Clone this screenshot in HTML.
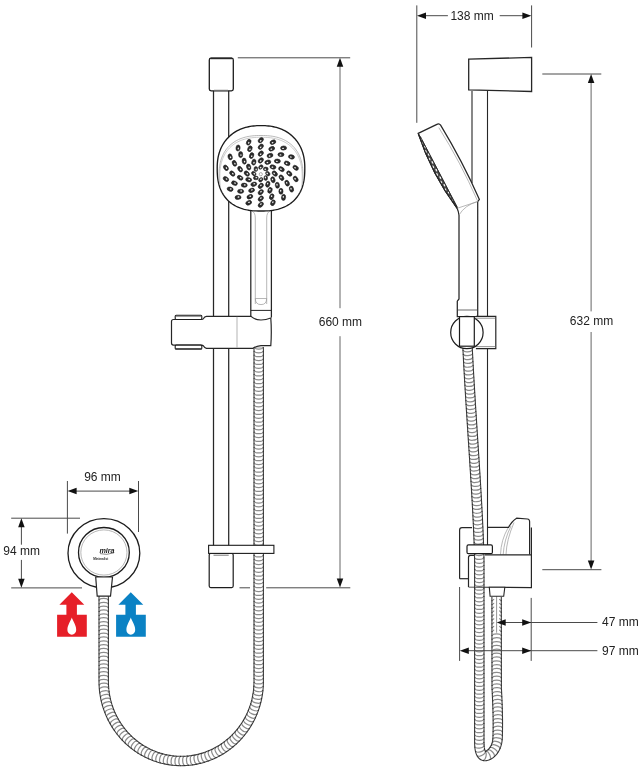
<!DOCTYPE html>
<html><head><meta charset="utf-8"><style>
html,body{margin:0;padding:0;background:#fff;width:643px;height:768px;overflow:hidden}
svg{display:block}
text{font-family:"Liberation Sans",sans-serif}
svg{will-change:transform}
</style></head><body>
<svg width="643" height="768" viewBox="0 0 643 768">
<path d="M258.70,347.50 L258.70,349.50 L258.70,351.50 L258.70,353.50 L258.70,355.50 L258.70,357.50 L258.70,359.50 L258.70,361.50 L258.70,363.50 L258.70,365.50 L258.70,367.50 L258.70,369.50 L258.70,371.50 L258.70,373.50 L258.70,375.50 L258.70,377.50 L258.70,379.50 L258.70,381.50 L258.70,383.50 L258.70,385.50 L258.70,387.50 L258.70,389.50 L258.70,391.50 L258.70,393.50 L258.70,395.50 L258.70,397.50 L258.70,399.50 L258.70,401.50 L258.70,403.50 L258.70,405.50 L258.70,407.50 L258.70,409.50 L258.70,411.50 L258.70,413.50 L258.70,415.50 L258.70,417.50 L258.70,419.50 L258.70,421.50 L258.70,423.50 L258.70,425.50 L258.70,427.50 L258.70,429.50 L258.70,431.50 L258.70,433.50 L258.70,435.50 L258.70,437.50 L258.70,439.50 L258.70,441.50 L258.70,443.50 L258.70,445.50 L258.70,447.50 L258.70,449.50 L258.70,451.50 L258.70,453.50 L258.70,455.50 L258.70,457.50 L258.70,459.50 L258.70,461.50 L258.70,463.50 L258.70,465.50 L258.70,467.50 L258.70,469.50 L258.70,471.50 L258.70,473.50 L258.70,475.50 L258.70,477.50 L258.70,479.50 L258.70,481.50 L258.70,483.50 L258.70,485.50 L258.70,487.50 L258.70,489.50 L258.70,491.50 L258.70,493.50 L258.70,495.50 L258.70,497.50 L258.70,499.50 L258.70,501.50 L258.70,503.50 L258.70,505.50 L258.70,507.50 L258.70,509.50 L258.70,511.50 L258.70,513.50 L258.70,515.50 L258.70,517.50 L258.70,519.50 L258.70,521.50 L258.70,523.50 L258.70,525.50 L258.70,527.50 L258.70,529.50 L258.70,531.50 L258.70,533.50 L258.70,535.50 L258.70,537.50 L258.70,539.50 L258.70,541.50 L258.70,543.50 L258.70,545.50 L258.70,547.50 L258.70,549.50 L258.70,551.50 L258.70,553.50 L258.70,555.50 L258.70,557.50 L258.70,559.50 L258.70,561.50 L258.70,563.50 L258.70,565.50 L258.70,567.50 L258.70,569.50 L258.70,571.50 L258.70,573.50 L258.70,575.50 L258.70,577.50 L258.70,579.50 L258.70,581.50 L258.70,583.50 L258.70,585.50 L258.70,587.50 L258.70,589.50 L258.70,591.50 L258.70,593.50 L258.70,595.50 L258.70,597.50 L258.70,599.50 L258.70,601.50 L258.70,603.50 L258.70,605.50 L258.70,607.50 L258.70,609.50 L258.70,611.50 L258.70,613.50 L258.70,615.50 L258.70,617.50 L258.70,619.50 L258.70,621.50 L258.70,623.50 L258.70,625.50 L258.70,627.50 L258.70,629.50 L258.70,631.50 L258.70,633.50 L258.70,635.50 L258.70,637.50 L258.70,639.50 L258.70,641.50 L258.70,643.50 L258.70,645.50 L258.70,647.50 L258.70,649.50 L258.70,651.50 L258.70,653.50 L258.70,655.50 L258.70,657.50 L258.70,659.50 L258.70,661.50 L258.70,663.50 L258.70,665.50 L258.70,667.50 L258.70,669.50 L258.70,671.50 L258.70,673.50 L258.70,675.50 L258.70,677.50 L258.70,679.50 L258.70,681.50 L258.65,684.27 L258.51,687.05 L258.28,689.81 L257.95,692.56 L257.52,695.31 L257.01,698.03 L256.40,700.73 L255.70,703.41 L254.91,706.07 L254.03,708.69 L253.06,711.28 L252.00,713.84 L250.86,716.35 L249.63,718.82 L248.32,721.25 L246.92,723.63 L245.45,725.96 L243.90,728.23 L242.27,730.45 L240.57,732.60 L238.79,734.70 L236.95,736.73 L235.04,738.69 L233.06,740.58 L231.02,742.40 L228.91,744.15 L226.75,745.82 L224.54,747.41 L222.27,748.92 L219.95,750.35 L217.58,751.69 L215.17,752.95 L212.72,754.13 L210.23,755.21 L207.71,756.21 L205.15,757.11 L202.56,757.92 L199.95,758.64 L197.31,759.26 L194.66,759.79 L191.99,760.23 L189.30,760.56 L186.61,760.81 L183.90,760.95 L181.20,761.00 L178.50,760.95 L175.79,760.81 L173.10,760.56 L170.41,760.23 L167.74,759.79 L165.09,759.26 L162.45,758.64 L159.84,757.92 L157.25,757.11 L154.69,756.21 L152.17,755.21 L149.68,754.13 L147.23,752.95 L144.82,751.69 L142.45,750.35 L140.13,748.92 L137.86,747.41 L135.65,745.82 L133.49,744.15 L131.38,742.40 L129.34,740.58 L127.36,738.69 L125.45,736.73 L123.61,734.70 L121.83,732.60 L120.13,730.45 L118.50,728.23 L116.95,725.96 L115.48,723.63 L114.08,721.25 L112.77,718.82 L111.54,716.35 L110.40,713.84 L109.34,711.28 L108.37,708.69 L107.49,706.07 L106.70,703.41 L106.00,700.73 L105.39,698.03 L104.88,695.31 L104.45,692.56 L104.12,689.81 L103.89,687.05 L103.75,684.27 L103.70,681.50 L103.70,679.46 L103.70,677.43 L103.70,675.39 L103.70,673.36 L103.70,671.32 L103.70,669.29 L103.70,667.25 L103.70,665.21 L103.70,663.18 L103.70,661.14 L103.70,659.11 L103.70,657.07 L103.70,655.04 L103.70,653.00 L103.70,650.96 L103.70,648.93 L103.70,646.89 L103.70,644.86 L103.70,642.82 L103.70,640.79 L103.70,638.75 L103.70,636.71 L103.70,634.68 L103.70,632.64 L103.70,630.61 L103.70,628.57 L103.70,626.54 L103.70,624.50 L103.70,622.46 L103.70,620.43 L103.70,618.39 L103.70,616.36 L103.70,614.32 L103.70,612.29 L103.70,610.25 L103.70,608.21 L103.70,606.18 L103.70,604.14 L103.70,602.11 L103.70,600.07 L103.70,598.04 L103.70,596.00" stroke="#3c3c3c" stroke-width="10.5" fill="none" stroke-linejoin="round"/>
<path d="M258.70,347.50 L258.70,349.50 L258.70,351.50 L258.70,353.50 L258.70,355.50 L258.70,357.50 L258.70,359.50 L258.70,361.50 L258.70,363.50 L258.70,365.50 L258.70,367.50 L258.70,369.50 L258.70,371.50 L258.70,373.50 L258.70,375.50 L258.70,377.50 L258.70,379.50 L258.70,381.50 L258.70,383.50 L258.70,385.50 L258.70,387.50 L258.70,389.50 L258.70,391.50 L258.70,393.50 L258.70,395.50 L258.70,397.50 L258.70,399.50 L258.70,401.50 L258.70,403.50 L258.70,405.50 L258.70,407.50 L258.70,409.50 L258.70,411.50 L258.70,413.50 L258.70,415.50 L258.70,417.50 L258.70,419.50 L258.70,421.50 L258.70,423.50 L258.70,425.50 L258.70,427.50 L258.70,429.50 L258.70,431.50 L258.70,433.50 L258.70,435.50 L258.70,437.50 L258.70,439.50 L258.70,441.50 L258.70,443.50 L258.70,445.50 L258.70,447.50 L258.70,449.50 L258.70,451.50 L258.70,453.50 L258.70,455.50 L258.70,457.50 L258.70,459.50 L258.70,461.50 L258.70,463.50 L258.70,465.50 L258.70,467.50 L258.70,469.50 L258.70,471.50 L258.70,473.50 L258.70,475.50 L258.70,477.50 L258.70,479.50 L258.70,481.50 L258.70,483.50 L258.70,485.50 L258.70,487.50 L258.70,489.50 L258.70,491.50 L258.70,493.50 L258.70,495.50 L258.70,497.50 L258.70,499.50 L258.70,501.50 L258.70,503.50 L258.70,505.50 L258.70,507.50 L258.70,509.50 L258.70,511.50 L258.70,513.50 L258.70,515.50 L258.70,517.50 L258.70,519.50 L258.70,521.50 L258.70,523.50 L258.70,525.50 L258.70,527.50 L258.70,529.50 L258.70,531.50 L258.70,533.50 L258.70,535.50 L258.70,537.50 L258.70,539.50 L258.70,541.50 L258.70,543.50 L258.70,545.50 L258.70,547.50 L258.70,549.50 L258.70,551.50 L258.70,553.50 L258.70,555.50 L258.70,557.50 L258.70,559.50 L258.70,561.50 L258.70,563.50 L258.70,565.50 L258.70,567.50 L258.70,569.50 L258.70,571.50 L258.70,573.50 L258.70,575.50 L258.70,577.50 L258.70,579.50 L258.70,581.50 L258.70,583.50 L258.70,585.50 L258.70,587.50 L258.70,589.50 L258.70,591.50 L258.70,593.50 L258.70,595.50 L258.70,597.50 L258.70,599.50 L258.70,601.50 L258.70,603.50 L258.70,605.50 L258.70,607.50 L258.70,609.50 L258.70,611.50 L258.70,613.50 L258.70,615.50 L258.70,617.50 L258.70,619.50 L258.70,621.50 L258.70,623.50 L258.70,625.50 L258.70,627.50 L258.70,629.50 L258.70,631.50 L258.70,633.50 L258.70,635.50 L258.70,637.50 L258.70,639.50 L258.70,641.50 L258.70,643.50 L258.70,645.50 L258.70,647.50 L258.70,649.50 L258.70,651.50 L258.70,653.50 L258.70,655.50 L258.70,657.50 L258.70,659.50 L258.70,661.50 L258.70,663.50 L258.70,665.50 L258.70,667.50 L258.70,669.50 L258.70,671.50 L258.70,673.50 L258.70,675.50 L258.70,677.50 L258.70,679.50 L258.70,681.50 L258.65,684.27 L258.51,687.05 L258.28,689.81 L257.95,692.56 L257.52,695.31 L257.01,698.03 L256.40,700.73 L255.70,703.41 L254.91,706.07 L254.03,708.69 L253.06,711.28 L252.00,713.84 L250.86,716.35 L249.63,718.82 L248.32,721.25 L246.92,723.63 L245.45,725.96 L243.90,728.23 L242.27,730.45 L240.57,732.60 L238.79,734.70 L236.95,736.73 L235.04,738.69 L233.06,740.58 L231.02,742.40 L228.91,744.15 L226.75,745.82 L224.54,747.41 L222.27,748.92 L219.95,750.35 L217.58,751.69 L215.17,752.95 L212.72,754.13 L210.23,755.21 L207.71,756.21 L205.15,757.11 L202.56,757.92 L199.95,758.64 L197.31,759.26 L194.66,759.79 L191.99,760.23 L189.30,760.56 L186.61,760.81 L183.90,760.95 L181.20,761.00 L178.50,760.95 L175.79,760.81 L173.10,760.56 L170.41,760.23 L167.74,759.79 L165.09,759.26 L162.45,758.64 L159.84,757.92 L157.25,757.11 L154.69,756.21 L152.17,755.21 L149.68,754.13 L147.23,752.95 L144.82,751.69 L142.45,750.35 L140.13,748.92 L137.86,747.41 L135.65,745.82 L133.49,744.15 L131.38,742.40 L129.34,740.58 L127.36,738.69 L125.45,736.73 L123.61,734.70 L121.83,732.60 L120.13,730.45 L118.50,728.23 L116.95,725.96 L115.48,723.63 L114.08,721.25 L112.77,718.82 L111.54,716.35 L110.40,713.84 L109.34,711.28 L108.37,708.69 L107.49,706.07 L106.70,703.41 L106.00,700.73 L105.39,698.03 L104.88,695.31 L104.45,692.56 L104.12,689.81 L103.89,687.05 L103.75,684.27 L103.70,681.50 L103.70,679.46 L103.70,677.43 L103.70,675.39 L103.70,673.36 L103.70,671.32 L103.70,669.29 L103.70,667.25 L103.70,665.21 L103.70,663.18 L103.70,661.14 L103.70,659.11 L103.70,657.07 L103.70,655.04 L103.70,653.00 L103.70,650.96 L103.70,648.93 L103.70,646.89 L103.70,644.86 L103.70,642.82 L103.70,640.79 L103.70,638.75 L103.70,636.71 L103.70,634.68 L103.70,632.64 L103.70,630.61 L103.70,628.57 L103.70,626.54 L103.70,624.50 L103.70,622.46 L103.70,620.43 L103.70,618.39 L103.70,616.36 L103.70,614.32 L103.70,612.29 L103.70,610.25 L103.70,608.21 L103.70,606.18 L103.70,604.14 L103.70,602.11 L103.70,600.07 L103.70,598.04 L103.70,596.00" stroke="#fff" stroke-width="8.3" fill="none" stroke-linejoin="round"/>
<path d="M254.65,347.50 C254.65,349.50 262.75,349.50 262.75,347.50 M254.65,351.35 C254.65,353.35 262.75,353.35 262.75,351.35 M254.65,355.20 C254.65,357.20 262.75,357.20 262.75,355.20 M254.65,359.05 C254.65,361.05 262.75,361.05 262.75,359.05 M254.65,362.90 C254.65,364.90 262.75,364.90 262.75,362.90 M254.65,366.75 C254.65,368.75 262.75,368.75 262.75,366.75 M254.65,370.60 C254.65,372.60 262.75,372.60 262.75,370.60 M254.65,374.45 C254.65,376.45 262.75,376.45 262.75,374.45 M254.65,378.30 C254.65,380.30 262.75,380.30 262.75,378.30 M254.65,382.15 C254.65,384.15 262.75,384.15 262.75,382.15 M254.65,386.00 C254.65,388.00 262.75,388.00 262.75,386.00 M254.65,389.85 C254.65,391.85 262.75,391.85 262.75,389.85 M254.65,393.70 C254.65,395.70 262.75,395.70 262.75,393.70 M254.65,397.55 C254.65,399.55 262.75,399.55 262.75,397.55 M254.65,401.40 C254.65,403.40 262.75,403.40 262.75,401.40 M254.65,405.25 C254.65,407.25 262.75,407.25 262.75,405.25 M254.65,409.10 C254.65,411.10 262.75,411.10 262.75,409.10 M254.65,412.95 C254.65,414.95 262.75,414.95 262.75,412.95 M254.65,416.80 C254.65,418.80 262.75,418.80 262.75,416.80 M254.65,420.65 C254.65,422.65 262.75,422.65 262.75,420.65 M254.65,424.50 C254.65,426.50 262.75,426.50 262.75,424.50 M254.65,428.35 C254.65,430.35 262.75,430.35 262.75,428.35 M254.65,432.20 C254.65,434.20 262.75,434.20 262.75,432.20 M254.65,436.05 C254.65,438.05 262.75,438.05 262.75,436.05 M254.65,439.90 C254.65,441.90 262.75,441.90 262.75,439.90 M254.65,443.75 C254.65,445.75 262.75,445.75 262.75,443.75 M254.65,447.60 C254.65,449.60 262.75,449.60 262.75,447.60 M254.65,451.45 C254.65,453.45 262.75,453.45 262.75,451.45 M254.65,455.30 C254.65,457.30 262.75,457.30 262.75,455.30 M254.65,459.15 C254.65,461.15 262.75,461.15 262.75,459.15 M254.65,463.00 C254.65,465.00 262.75,465.00 262.75,463.00 M254.65,466.85 C254.65,468.85 262.75,468.85 262.75,466.85 M254.65,470.70 C254.65,472.70 262.75,472.70 262.75,470.70 M254.65,474.55 C254.65,476.55 262.75,476.55 262.75,474.55 M254.65,478.40 C254.65,480.40 262.75,480.40 262.75,478.40 M254.65,482.25 C254.65,484.25 262.75,484.25 262.75,482.25 M254.65,486.10 C254.65,488.10 262.75,488.10 262.75,486.10 M254.65,489.95 C254.65,491.95 262.75,491.95 262.75,489.95 M254.65,493.80 C254.65,495.80 262.75,495.80 262.75,493.80 M254.65,497.65 C254.65,499.65 262.75,499.65 262.75,497.65 M254.65,501.50 C254.65,503.50 262.75,503.50 262.75,501.50 M254.65,505.35 C254.65,507.35 262.75,507.35 262.75,505.35 M254.65,509.20 C254.65,511.20 262.75,511.20 262.75,509.20 M254.65,513.05 C254.65,515.05 262.75,515.05 262.75,513.05 M254.65,516.90 C254.65,518.90 262.75,518.90 262.75,516.90 M254.65,520.75 C254.65,522.75 262.75,522.75 262.75,520.75 M254.65,524.60 C254.65,526.60 262.75,526.60 262.75,524.60 M254.65,528.45 C254.65,530.45 262.75,530.45 262.75,528.45 M254.65,532.30 C254.65,534.30 262.75,534.30 262.75,532.30 M254.65,536.15 C254.65,538.15 262.75,538.15 262.75,536.15 M254.65,540.00 C254.65,542.00 262.75,542.00 262.75,540.00 M254.65,543.85 C254.65,545.85 262.75,545.85 262.75,543.85 M254.65,547.70 C254.65,549.70 262.75,549.70 262.75,547.70 M254.65,551.55 C254.65,553.55 262.75,553.55 262.75,551.55 M254.65,555.40 C254.65,557.40 262.75,557.40 262.75,555.40 M254.65,559.25 C254.65,561.25 262.75,561.25 262.75,559.25 M254.65,563.10 C254.65,565.10 262.75,565.10 262.75,563.10 M254.65,566.95 C254.65,568.95 262.75,568.95 262.75,566.95 M254.65,570.80 C254.65,572.80 262.75,572.80 262.75,570.80 M254.65,574.65 C254.65,576.65 262.75,576.65 262.75,574.65 M254.65,578.50 C254.65,580.50 262.75,580.50 262.75,578.50 M254.65,582.35 C254.65,584.35 262.75,584.35 262.75,582.35 M254.65,586.20 C254.65,588.20 262.75,588.20 262.75,586.20 M254.65,590.05 C254.65,592.05 262.75,592.05 262.75,590.05 M254.65,593.90 C254.65,595.90 262.75,595.90 262.75,593.90 M254.65,597.75 C254.65,599.75 262.75,599.75 262.75,597.75 M254.65,601.60 C254.65,603.60 262.75,603.60 262.75,601.60 M254.65,605.45 C254.65,607.45 262.75,607.45 262.75,605.45 M254.65,609.30 C254.65,611.30 262.75,611.30 262.75,609.30 M254.65,613.15 C254.65,615.15 262.75,615.15 262.75,613.15 M254.65,617.00 C254.65,619.00 262.75,619.00 262.75,617.00 M254.65,620.85 C254.65,622.85 262.75,622.85 262.75,620.85 M254.65,624.70 C254.65,626.70 262.75,626.70 262.75,624.70 M254.65,628.55 C254.65,630.55 262.75,630.55 262.75,628.55 M254.65,632.40 C254.65,634.40 262.75,634.40 262.75,632.40 M254.65,636.25 C254.65,638.25 262.75,638.25 262.75,636.25 M254.65,640.10 C254.65,642.10 262.75,642.10 262.75,640.10 M254.65,643.95 C254.65,645.95 262.75,645.95 262.75,643.95 M254.65,647.80 C254.65,649.80 262.75,649.80 262.75,647.80 M254.65,651.65 C254.65,653.65 262.75,653.65 262.75,651.65 M254.65,655.50 C254.65,657.50 262.75,657.50 262.75,655.50 M254.65,659.35 C254.65,661.35 262.75,661.35 262.75,659.35 M254.65,663.20 C254.65,665.20 262.75,665.20 262.75,663.20 M254.65,667.05 C254.65,669.05 262.75,669.05 262.75,667.05 M254.65,670.90 C254.65,672.90 262.75,672.90 262.75,670.90 M254.65,674.75 C254.65,676.75 262.75,676.75 262.75,674.75 M254.65,678.60 C254.65,680.60 262.75,680.60 262.75,678.60 M254.63,682.38 C254.60,684.38 262.70,684.52 262.73,682.52 M254.50,686.09 C254.40,688.09 262.49,688.50 262.59,686.50 M254.22,689.65 C253.98,691.64 262.02,692.60 262.26,690.61 M253.73,693.33 C253.42,695.31 261.43,696.54 261.73,694.57 M253.08,696.99 C252.71,698.95 260.67,700.46 261.04,698.49 M252.28,700.47 C251.78,702.40 259.61,704.45 260.12,702.52 M251.28,704.04 C250.71,705.96 258.48,708.27 259.05,706.36 M250.17,707.44 C249.47,709.31 257.06,712.15 257.76,710.28 M248.83,710.90 C248.07,712.75 255.55,715.84 256.32,714.00 M247.34,714.30 C246.51,716.12 253.89,719.47 254.72,717.65 M245.74,717.49 C244.79,719.25 251.92,723.10 252.87,721.34 M243.93,720.73 C242.92,722.45 249.91,726.55 250.92,724.82 M242.05,723.76 C240.92,725.41 247.61,729.98 248.74,728.33 M239.92,726.80 C238.74,728.41 245.27,733.21 246.45,731.60 M237.67,729.74 C236.43,731.31 242.78,736.33 244.02,734.76 M235.35,732.46 C234.01,733.94 240.00,739.39 241.35,737.91 M232.82,735.16 C231.42,736.60 237.22,742.25 238.62,740.82 M230.26,737.65 C228.77,738.98 234.16,745.03 235.65,743.70 M227.46,740.09 C225.93,741.36 231.10,747.59 232.64,746.32 M224.56,742.39 C222.98,743.62 227.93,750.02 229.51,748.80 M221.66,744.46 C219.99,745.57 224.48,752.31 226.15,751.20 M218.54,746.46 C216.84,747.51 221.09,754.41 222.79,753.36 M215.45,748.24 C213.68,749.17 217.43,756.34 219.20,755.42 M212.14,749.91 C210.34,750.78 213.84,758.08 215.64,757.22 M208.76,751.43 C206.93,752.23 210.16,759.66 212.00,758.86 M205.44,752.71 C203.55,753.38 206.25,761.01 208.14,760.35 M201.92,753.88 C200.01,754.47 202.44,762.20 204.35,761.60 M198.49,754.82 C196.54,755.28 198.41,763.16 200.36,762.70 M194.87,755.62 C192.91,756.01 194.50,763.95 196.46,763.56 M191.36,756.22 C189.38,756.47 190.39,764.51 192.38,764.26 M187.68,756.64 C185.69,756.82 186.42,764.89 188.41,764.71 M183.99,756.89 C181.99,757.00 182.43,765.09 184.42,764.98 M180.43,756.94 C178.43,756.90 178.28,765.00 180.28,765.03 M176.73,756.80 C174.73,756.69 174.30,764.78 176.29,764.89 M173.18,756.49 C171.20,756.24 170.18,764.28 172.17,764.53 M169.51,755.98 C167.54,755.66 166.24,763.65 168.21,763.97 M166.01,755.32 C164.07,754.86 162.20,762.74 164.15,763.20 M162.42,754.43 C160.49,753.90 158.34,761.71 160.27,762.24 M158.87,753.37 C156.96,752.77 154.53,760.50 156.44,761.10 M155.51,752.18 C153.65,751.44 150.68,758.98 152.54,759.71 M152.09,750.76 C150.25,749.96 147.02,757.39 148.85,758.19 M148.87,749.24 C147.09,748.31 143.34,755.49 145.11,756.42 M145.60,747.48 C143.86,746.49 139.86,753.54 141.60,754.52 M142.43,745.58 C140.72,744.53 136.47,751.42 138.18,752.47 M139.47,743.58 C137.85,742.41 133.12,748.99 134.75,750.16 M136.50,741.36 C134.92,740.14 129.97,746.55 131.55,747.77 M133.76,739.09 C132.26,737.76 126.87,743.80 128.36,745.13 M131.02,736.58 C129.58,735.20 123.98,741.05 125.42,742.44 M128.41,733.96 C127.01,732.52 121.21,738.18 122.61,739.61 M126.03,731.29 C124.74,729.77 118.56,735.00 119.85,736.53 M123.69,728.42 C122.45,726.85 116.09,731.87 117.33,733.44 M121.57,725.54 C120.45,723.89 113.76,728.46 114.88,730.11 M119.52,722.45 C118.46,720.76 111.61,725.09 112.68,726.78 M117.62,719.27 C116.61,717.54 109.62,721.64 110.63,723.36 M115.95,716.11 C115.06,714.32 107.80,717.93 108.69,719.72 M114.36,712.76 C113.53,710.94 106.16,714.29 106.99,716.11 M112.99,709.46 C112.29,707.59 104.70,710.43 105.40,712.30 M111.73,705.97 C111.10,704.07 103.42,706.65 104.05,708.55 M110.63,702.43 C110.06,700.51 102.30,702.82 102.87,704.74 M109.76,698.96 C109.32,697.01 101.41,698.79 101.85,700.74 M109.00,695.33 C108.63,693.36 100.67,694.87 101.05,696.84 M108.44,691.80 C108.20,689.81 100.16,690.78 100.40,692.76 M108.04,688.11 C107.87,686.12 99.80,686.80 99.97,688.80 M107.81,684.41 C107.71,682.41 99.62,682.82 99.72,684.82 M107.75,680.76 C107.75,678.76 99.65,678.76 99.65,680.76 M107.75,676.91 C107.75,674.91 99.65,674.91 99.65,676.91 M107.75,673.06 C107.75,671.06 99.65,671.06 99.65,673.06 M107.75,669.21 C107.75,667.21 99.65,667.21 99.65,669.21 M107.75,665.36 C107.75,663.36 99.65,663.36 99.65,665.36 M107.75,661.51 C107.75,659.51 99.65,659.51 99.65,661.51 M107.75,657.66 C107.75,655.66 99.65,655.66 99.65,657.66 M107.75,653.81 C107.75,651.81 99.65,651.81 99.65,653.81 M107.75,649.96 C107.75,647.96 99.65,647.96 99.65,649.96 M107.75,646.11 C107.75,644.11 99.65,644.11 99.65,646.11 M107.75,642.26 C107.75,640.26 99.65,640.26 99.65,642.26 M107.75,638.41 C107.75,636.41 99.65,636.41 99.65,638.41 M107.75,634.56 C107.75,632.56 99.65,632.56 99.65,634.56 M107.75,630.71 C107.75,628.71 99.65,628.71 99.65,630.71 M107.75,626.86 C107.75,624.86 99.65,624.86 99.65,626.86 M107.75,623.01 C107.75,621.01 99.65,621.01 99.65,623.01 M107.75,619.16 C107.75,617.16 99.65,617.16 99.65,619.16 M107.75,615.31 C107.75,613.31 99.65,613.31 99.65,615.31 M107.75,611.46 C107.75,609.46 99.65,609.46 99.65,611.46 M107.75,607.61 C107.75,605.61 99.65,605.61 99.65,607.61 M107.75,603.76 C107.75,601.76 99.65,601.76 99.65,603.76 M107.75,599.91 C107.75,597.91 99.65,597.91 99.65,599.91 M107.75,596.06 C107.75,594.06 99.65,594.06 99.65,596.06" stroke="#8c8c8c" stroke-width="1.25" fill="none"/>
<path d="M254.15,347.50 h0.01 M263.25,347.50 h0.01 M254.15,351.35 h0.01 M263.25,351.35 h0.01 M254.15,355.20 h0.01 M263.25,355.20 h0.01 M254.15,359.05 h0.01 M263.25,359.05 h0.01 M254.15,362.90 h0.01 M263.25,362.90 h0.01 M254.15,366.75 h0.01 M263.25,366.75 h0.01 M254.15,370.60 h0.01 M263.25,370.60 h0.01 M254.15,374.45 h0.01 M263.25,374.45 h0.01 M254.15,378.30 h0.01 M263.25,378.30 h0.01 M254.15,382.15 h0.01 M263.25,382.15 h0.01 M254.15,386.00 h0.01 M263.25,386.00 h0.01 M254.15,389.85 h0.01 M263.25,389.85 h0.01 M254.15,393.70 h0.01 M263.25,393.70 h0.01 M254.15,397.55 h0.01 M263.25,397.55 h0.01 M254.15,401.40 h0.01 M263.25,401.40 h0.01 M254.15,405.25 h0.01 M263.25,405.25 h0.01 M254.15,409.10 h0.01 M263.25,409.10 h0.01 M254.15,412.95 h0.01 M263.25,412.95 h0.01 M254.15,416.80 h0.01 M263.25,416.80 h0.01 M254.15,420.65 h0.01 M263.25,420.65 h0.01 M254.15,424.50 h0.01 M263.25,424.50 h0.01 M254.15,428.35 h0.01 M263.25,428.35 h0.01 M254.15,432.20 h0.01 M263.25,432.20 h0.01 M254.15,436.05 h0.01 M263.25,436.05 h0.01 M254.15,439.90 h0.01 M263.25,439.90 h0.01 M254.15,443.75 h0.01 M263.25,443.75 h0.01 M254.15,447.60 h0.01 M263.25,447.60 h0.01 M254.15,451.45 h0.01 M263.25,451.45 h0.01 M254.15,455.30 h0.01 M263.25,455.30 h0.01 M254.15,459.15 h0.01 M263.25,459.15 h0.01 M254.15,463.00 h0.01 M263.25,463.00 h0.01 M254.15,466.85 h0.01 M263.25,466.85 h0.01 M254.15,470.70 h0.01 M263.25,470.70 h0.01 M254.15,474.55 h0.01 M263.25,474.55 h0.01 M254.15,478.40 h0.01 M263.25,478.40 h0.01 M254.15,482.25 h0.01 M263.25,482.25 h0.01 M254.15,486.10 h0.01 M263.25,486.10 h0.01 M254.15,489.95 h0.01 M263.25,489.95 h0.01 M254.15,493.80 h0.01 M263.25,493.80 h0.01 M254.15,497.65 h0.01 M263.25,497.65 h0.01 M254.15,501.50 h0.01 M263.25,501.50 h0.01 M254.15,505.35 h0.01 M263.25,505.35 h0.01 M254.15,509.20 h0.01 M263.25,509.20 h0.01 M254.15,513.05 h0.01 M263.25,513.05 h0.01 M254.15,516.90 h0.01 M263.25,516.90 h0.01 M254.15,520.75 h0.01 M263.25,520.75 h0.01 M254.15,524.60 h0.01 M263.25,524.60 h0.01 M254.15,528.45 h0.01 M263.25,528.45 h0.01 M254.15,532.30 h0.01 M263.25,532.30 h0.01 M254.15,536.15 h0.01 M263.25,536.15 h0.01 M254.15,540.00 h0.01 M263.25,540.00 h0.01 M254.15,543.85 h0.01 M263.25,543.85 h0.01 M254.15,547.70 h0.01 M263.25,547.70 h0.01 M254.15,551.55 h0.01 M263.25,551.55 h0.01 M254.15,555.40 h0.01 M263.25,555.40 h0.01 M254.15,559.25 h0.01 M263.25,559.25 h0.01 M254.15,563.10 h0.01 M263.25,563.10 h0.01 M254.15,566.95 h0.01 M263.25,566.95 h0.01 M254.15,570.80 h0.01 M263.25,570.80 h0.01 M254.15,574.65 h0.01 M263.25,574.65 h0.01 M254.15,578.50 h0.01 M263.25,578.50 h0.01 M254.15,582.35 h0.01 M263.25,582.35 h0.01 M254.15,586.20 h0.01 M263.25,586.20 h0.01 M254.15,590.05 h0.01 M263.25,590.05 h0.01 M254.15,593.90 h0.01 M263.25,593.90 h0.01 M254.15,597.75 h0.01 M263.25,597.75 h0.01 M254.15,601.60 h0.01 M263.25,601.60 h0.01 M254.15,605.45 h0.01 M263.25,605.45 h0.01 M254.15,609.30 h0.01 M263.25,609.30 h0.01 M254.15,613.15 h0.01 M263.25,613.15 h0.01 M254.15,617.00 h0.01 M263.25,617.00 h0.01 M254.15,620.85 h0.01 M263.25,620.85 h0.01 M254.15,624.70 h0.01 M263.25,624.70 h0.01 M254.15,628.55 h0.01 M263.25,628.55 h0.01 M254.15,632.40 h0.01 M263.25,632.40 h0.01 M254.15,636.25 h0.01 M263.25,636.25 h0.01 M254.15,640.10 h0.01 M263.25,640.10 h0.01 M254.15,643.95 h0.01 M263.25,643.95 h0.01 M254.15,647.80 h0.01 M263.25,647.80 h0.01 M254.15,651.65 h0.01 M263.25,651.65 h0.01 M254.15,655.50 h0.01 M263.25,655.50 h0.01 M254.15,659.35 h0.01 M263.25,659.35 h0.01 M254.15,663.20 h0.01 M263.25,663.20 h0.01 M254.15,667.05 h0.01 M263.25,667.05 h0.01 M254.15,670.90 h0.01 M263.25,670.90 h0.01 M254.15,674.75 h0.01 M263.25,674.75 h0.01 M254.15,678.60 h0.01 M263.25,678.60 h0.01 M254.13,682.37 h0.01 M263.23,682.53 h0.01 M254.01,686.06 h0.01 M263.09,686.53 h0.01 M253.72,689.59 h0.01 M262.75,690.67 h0.01 M253.24,693.26 h0.01 M262.23,694.64 h0.01 M252.59,696.89 h0.01 M261.53,698.59 h0.01 M251.80,700.34 h0.01 M260.60,702.64 h0.01 M250.80,703.90 h0.01 M259.53,706.50 h0.01 M249.70,707.26 h0.01 M258.23,710.45 h0.01 M248.37,710.71 h0.01 M256.78,714.19 h0.01 M246.89,714.09 h0.01 M255.17,717.86 h0.01 M245.30,717.25 h0.01 M253.31,721.58 h0.01 M243.50,720.47 h0.01 M251.35,725.07 h0.01 M241.63,723.48 h0.01 M249.15,728.61 h0.01 M239.52,726.50 h0.01 M246.85,731.89 h0.01 M237.27,729.43 h0.01 M244.42,735.07 h0.01 M234.98,732.12 h0.01 M241.72,738.24 h0.01 M232.46,734.81 h0.01 M238.97,741.17 h0.01 M229.93,737.28 h0.01 M235.98,744.07 h0.01 M227.14,739.70 h0.01 M232.96,746.70 h0.01 M224.26,742.00 h0.01 M229.82,749.20 h0.01 M221.38,744.04 h0.01 M226.43,751.62 h0.01 M218.28,746.04 h0.01 M223.05,753.78 h0.01 M215.22,747.80 h0.01 M219.43,755.86 h0.01 M211.93,749.46 h0.01 M215.86,757.67 h0.01 M208.56,750.97 h0.01 M212.20,759.32 h0.01 M205.27,752.24 h0.01 M208.30,760.82 h0.01 M201.77,753.40 h0.01 M204.50,762.08 h0.01 M198.38,754.34 h0.01 M200.47,763.19 h0.01 M194.78,755.13 h0.01 M196.55,764.05 h0.01 M191.30,755.73 h0.01 M192.44,764.76 h0.01 M187.64,756.15 h0.01 M188.45,765.21 h0.01 M183.96,756.39 h0.01 M184.45,765.48 h0.01 M180.44,756.44 h0.01 M180.27,765.53 h0.01 M176.75,756.30 h0.01 M176.27,765.39 h0.01 M173.24,756.00 h0.01 M172.11,765.03 h0.01 M169.59,755.48 h0.01 M168.13,764.47 h0.01 M166.13,754.83 h0.01 M164.03,763.69 h0.01 M162.55,753.95 h0.01 M160.14,762.72 h0.01 M159.02,752.89 h0.01 M156.29,761.58 h0.01 M155.70,751.71 h0.01 M152.36,760.18 h0.01 M152.29,750.30 h0.01 M148.65,758.64 h0.01 M149.10,748.80 h0.01 M144.88,756.86 h0.01 M145.85,747.05 h0.01 M141.35,754.96 h0.01 M142.69,745.15 h0.01 M137.91,752.90 h0.01 M139.77,743.17 h0.01 M134.46,750.56 h0.01 M136.81,740.96 h0.01 M131.24,748.16 h0.01 M134.09,738.72 h0.01 M128.03,745.51 h0.01 M131.37,736.22 h0.01 M125.08,742.80 h0.01 M128.76,733.61 h0.01 M122.25,739.96 h0.01 M126.41,730.97 h0.01 M119.47,736.85 h0.01 M124.08,728.11 h0.01 M116.94,733.75 h0.01 M121.99,725.26 h0.01 M114.47,730.39 h0.01 M119.95,722.18 h0.01 M112.26,727.05 h0.01 M118.05,719.02 h0.01 M110.20,723.62 h0.01 M116.40,715.89 h0.01 M108.25,719.94 h0.01 M114.82,712.55 h0.01 M106.53,716.32 h0.01 M113.46,709.29 h0.01 M104.93,712.48 h0.01 M112.21,705.81 h0.01 M103.58,708.71 h0.01 M111.11,702.28 h0.01 M102.39,704.88 h0.01 M110.24,698.85 h0.01 M101.36,700.85 h0.01 M109.50,695.24 h0.01 M100.55,696.93 h0.01 M108.94,691.74 h0.01 M99.90,692.82 h0.01 M108.54,688.07 h0.01 M99.48,688.84 h0.01 M108.31,684.38 h0.01 M99.22,684.84 h0.01 M108.25,680.76 h0.01 M99.15,680.76 h0.01 M108.25,676.91 h0.01 M99.15,676.91 h0.01 M108.25,673.06 h0.01 M99.15,673.06 h0.01 M108.25,669.21 h0.01 M99.15,669.21 h0.01 M108.25,665.36 h0.01 M99.15,665.36 h0.01 M108.25,661.51 h0.01 M99.15,661.51 h0.01 M108.25,657.66 h0.01 M99.15,657.66 h0.01 M108.25,653.81 h0.01 M99.15,653.81 h0.01 M108.25,649.96 h0.01 M99.15,649.96 h0.01 M108.25,646.11 h0.01 M99.15,646.11 h0.01 M108.25,642.26 h0.01 M99.15,642.26 h0.01 M108.25,638.41 h0.01 M99.15,638.41 h0.01 M108.25,634.56 h0.01 M99.15,634.56 h0.01 M108.25,630.71 h0.01 M99.15,630.71 h0.01 M108.25,626.86 h0.01 M99.15,626.86 h0.01 M108.25,623.01 h0.01 M99.15,623.01 h0.01 M108.25,619.16 h0.01 M99.15,619.16 h0.01 M108.25,615.31 h0.01 M99.15,615.31 h0.01 M108.25,611.46 h0.01 M99.15,611.46 h0.01 M108.25,607.61 h0.01 M99.15,607.61 h0.01 M108.25,603.76 h0.01 M99.15,603.76 h0.01 M108.25,599.91 h0.01 M99.15,599.91 h0.01 M108.25,596.06 h0.01 M99.15,596.06 h0.01" stroke="#2a2a2a" stroke-width="1.2" stroke-linecap="round" fill="none"/>
<line x1="213.5" y1="91" x2="213.5" y2="546" stroke="#262626" stroke-width="1.25" />
<line x1="228.7" y1="91" x2="228.7" y2="546" stroke="#262626" stroke-width="1.25" />
<rect x="209.3" y="58.2" width="24" height="32.6" rx="1.8" fill="#fff" stroke="#1c1c1c" stroke-width="1.3"/>
<line x1="210.5" y1="58.4" x2="232" y2="58.4" stroke="#262626" stroke-width="1.6" />
<line x1="214" y1="89.9" x2="228" y2="89.9" stroke="#bbb" stroke-width="0.7" />
<rect x="209.2" y="553.4" width="24" height="34.2" rx="1.5" fill="#fff" stroke="#1c1c1c" stroke-width="1.2"/>
<line x1="213.5" y1="555.2" x2="228.7" y2="555.2" stroke="#555" stroke-width="0.8" />
<rect x="208.6" y="545.3" width="65.3" height="8.1" fill="#fff" stroke="#1c1c1c" stroke-width="1.1"/>
<path d="M250.8,211 L250.8,316.4 M271.4,211 L271.4,317.5" stroke="#262626" stroke-width="1.25" fill="none" />
<path d="M255.3,304 L255.3,218 Q255.3,212 251.5,211 M266.7,304 L266.7,218 Q266.7,212 270.5,211" stroke="#999" stroke-width="0.7" fill="none" />
<path d="M255.3,298.5 Q255.4,304.6 261,304.6 Q266.6,304.6 266.7,298.5 M255.3,298.5 L266.7,298.5" stroke="#999" stroke-width="0.7" fill="none" />
<line x1="250.8" y1="310.4" x2="271.4" y2="310.4" stroke="#262626" stroke-width="1.0" />
<path d="M304.80,168.30 L304.78,171.06 L304.71,173.16 L304.60,175.06 L304.45,176.84 L304.26,178.53 L304.02,180.15 L303.73,181.71 L303.41,183.21 L303.04,184.67 L302.63,186.09 L302.18,187.46 L301.68,188.79 L301.15,190.08 L300.57,191.33 L299.95,192.55 L299.29,193.73 L298.58,194.87 L297.84,195.97 L297.06,197.04 L296.24,198.07 L295.37,199.06 L294.47,200.01 L293.53,200.93 L292.55,201.81 L291.53,202.65 L290.48,203.45 L289.38,204.22 L288.25,204.94 L287.08,205.62 L285.87,206.27 L284.63,206.87 L283.34,207.44 L282.02,207.96 L280.65,208.44 L279.24,208.89 L277.79,209.29 L276.30,209.64 L274.75,209.96 L273.15,210.24 L271.49,210.47 L269.76,210.66 L267.93,210.81 L265.98,210.92 L263.83,210.98 L261.00,211.00 L258.17,210.98 L256.02,210.92 L254.07,210.81 L252.24,210.66 L250.51,210.47 L248.85,210.24 L247.25,209.96 L245.70,209.64 L244.21,209.29 L242.76,208.89 L241.35,208.44 L239.98,207.96 L238.66,207.44 L237.37,206.87 L236.13,206.27 L234.92,205.62 L233.75,204.94 L232.62,204.22 L231.52,203.45 L230.47,202.65 L229.45,201.81 L228.47,200.93 L227.53,200.01 L226.63,199.06 L225.76,198.07 L224.94,197.04 L224.16,195.97 L223.42,194.87 L222.71,193.73 L222.05,192.55 L221.43,191.33 L220.85,190.08 L220.32,188.79 L219.82,187.46 L219.37,186.09 L218.96,184.67 L218.59,183.21 L218.27,181.71 L217.98,180.15 L217.74,178.53 L217.55,176.84 L217.40,175.06 L217.29,173.16 L217.22,171.06 L217.20,168.30 L217.22,166.14 L217.29,164.30 L217.41,162.56 L217.58,160.90 L217.79,159.29 L218.05,157.73 L218.36,156.21 L218.71,154.72 L219.11,153.27 L219.56,151.85 L220.05,150.46 L220.58,149.11 L221.16,147.79 L221.79,146.50 L222.46,145.24 L223.17,144.02 L223.92,142.83 L224.72,141.68 L225.56,140.56 L226.44,139.47 L227.36,138.42 L228.32,137.41 L229.32,136.44 L230.35,135.50 L231.43,134.61 L232.54,133.75 L233.69,132.93 L234.87,132.15 L236.09,131.42 L237.35,130.72 L238.63,130.07 L239.96,129.46 L241.31,128.90 L242.70,128.38 L244.12,127.90 L245.58,127.46 L247.07,127.07 L248.59,126.73 L250.16,126.43 L251.76,126.18 L253.41,125.97 L255.12,125.81 L256.89,125.69 L258.78,125.62 L261.00,125.60 L263.22,125.62 L265.11,125.69 L266.88,125.81 L268.59,125.97 L270.24,126.18 L271.84,126.43 L273.41,126.73 L274.93,127.07 L276.42,127.46 L277.88,127.90 L279.30,128.38 L280.69,128.90 L282.04,129.46 L283.37,130.07 L284.65,130.72 L285.91,131.42 L287.13,132.15 L288.31,132.93 L289.46,133.75 L290.57,134.61 L291.65,135.50 L292.68,136.44 L293.68,137.41 L294.64,138.42 L295.56,139.47 L296.44,140.56 L297.28,141.68 L298.08,142.83 L298.83,144.02 L299.54,145.24 L300.21,146.50 L300.84,147.79 L301.42,149.11 L301.95,150.46 L302.44,151.85 L302.89,153.27 L303.29,154.72 L303.64,156.21 L303.95,157.73 L304.21,159.29 L304.42,160.90 L304.59,162.56 L304.71,164.30 L304.78,166.14 Z" fill="#fff" stroke="#1c1c1c" stroke-width="1.35"/>
<clipPath id="hc"><path d="M304.10,168.30 L304.08,171.01 L304.01,173.08 L303.91,174.95 L303.76,176.70 L303.56,178.36 L303.33,179.95 L303.05,181.49 L302.73,182.97 L302.37,184.40 L301.97,185.79 L301.52,187.14 L301.03,188.45 L300.50,189.72 L299.94,190.96 L299.32,192.15 L298.67,193.31 L297.98,194.43 L297.25,195.52 L296.48,196.57 L295.67,197.58 L294.82,198.56 L293.94,199.49 L293.01,200.40 L292.05,201.26 L291.05,202.09 L290.01,202.88 L288.93,203.63 L287.82,204.34 L286.67,205.01 L285.48,205.65 L284.25,206.24 L282.98,206.80 L281.68,207.31 L280.34,207.79 L278.95,208.22 L277.52,208.61 L276.05,208.97 L274.53,209.28 L272.96,209.55 L271.32,209.78 L269.62,209.97 L267.82,210.11 L265.90,210.22 L263.79,210.28 L261.00,210.30 L258.21,210.28 L256.10,210.22 L254.18,210.11 L252.38,209.97 L250.68,209.78 L249.04,209.55 L247.47,209.28 L245.95,208.97 L244.48,208.61 L243.05,208.22 L241.66,207.79 L240.32,207.31 L239.02,206.80 L237.75,206.24 L236.52,205.65 L235.33,205.01 L234.18,204.34 L233.07,203.63 L231.99,202.88 L230.95,202.09 L229.95,201.26 L228.99,200.40 L228.06,199.49 L227.18,198.56 L226.33,197.58 L225.52,196.57 L224.75,195.52 L224.02,194.43 L223.33,193.31 L222.68,192.15 L222.06,190.96 L221.50,189.72 L220.97,188.45 L220.48,187.14 L220.03,185.79 L219.63,184.40 L219.27,182.97 L218.95,181.49 L218.67,179.95 L218.44,178.36 L218.24,176.70 L218.09,174.95 L217.99,173.08 L217.92,171.01 L217.90,168.30 L217.92,166.17 L217.99,164.36 L218.11,162.66 L218.27,161.02 L218.48,159.44 L218.74,157.90 L219.04,156.40 L219.39,154.94 L219.78,153.51 L220.22,152.12 L220.70,150.75 L221.23,149.42 L221.80,148.12 L222.41,146.85 L223.07,145.62 L223.77,144.42 L224.52,143.25 L225.30,142.11 L226.13,141.01 L226.99,139.94 L227.90,138.91 L228.84,137.92 L229.82,136.96 L230.84,136.04 L231.90,135.16 L233.00,134.32 L234.13,133.51 L235.29,132.75 L236.49,132.02 L237.72,131.34 L238.99,130.70 L240.29,130.10 L241.63,129.54 L242.99,129.03 L244.39,128.56 L245.83,128.13 L247.29,127.75 L248.79,127.41 L250.33,127.12 L251.91,126.87 L253.53,126.66 L255.21,126.50 L256.96,126.39 L258.82,126.32 L261.00,126.30 L263.18,126.32 L265.04,126.39 L266.79,126.50 L268.47,126.66 L270.09,126.87 L271.67,127.12 L273.21,127.41 L274.71,127.75 L276.17,128.13 L277.61,128.56 L279.01,129.03 L280.37,129.54 L281.71,130.10 L283.01,130.70 L284.28,131.34 L285.51,132.02 L286.71,132.75 L287.87,133.51 L289.00,134.32 L290.10,135.16 L291.16,136.04 L292.18,136.96 L293.16,137.92 L294.10,138.91 L295.01,139.94 L295.87,141.01 L296.70,142.11 L297.48,143.25 L298.23,144.42 L298.93,145.62 L299.59,146.85 L300.20,148.12 L300.77,149.42 L301.30,150.75 L301.78,152.12 L302.22,153.51 L302.61,154.94 L302.96,156.40 L303.26,157.90 L303.52,159.44 L303.73,161.02 L303.89,162.66 L304.01,164.36 L304.08,166.17 Z"/></clipPath>
<g clip-path="url(#hc)"><path d="M303.00,176.20 L302.98,178.68 L302.91,180.63 L302.81,182.40 L302.66,184.07 L302.47,185.66 L302.23,187.19 L301.96,188.67 L301.64,190.11 L301.28,191.50 L300.88,192.85 L300.44,194.16 L299.95,195.43 L299.43,196.67 L298.86,197.87 L298.26,199.04 L297.61,200.18 L296.92,201.27 L296.20,202.34 L295.44,203.37 L294.64,204.36 L293.80,205.32 L292.92,206.24 L292.00,207.13 L291.05,207.98 L290.06,208.79 L289.04,209.57 L287.97,210.31 L286.88,211.01 L285.74,211.68 L284.57,212.30 L283.37,212.89 L282.12,213.44 L280.85,213.95 L279.53,214.41 L278.18,214.84 L276.78,215.23 L275.35,215.58 L273.87,215.89 L272.35,216.16 L270.76,216.38 L269.12,216.57 L267.40,216.71 L265.57,216.82 L263.56,216.88 L261.00,216.90 L258.44,216.88 L256.43,216.82 L254.60,216.71 L252.88,216.57 L251.24,216.38 L249.65,216.16 L248.13,215.89 L246.65,215.58 L245.22,215.23 L243.82,214.84 L242.47,214.41 L241.15,213.95 L239.88,213.44 L238.63,212.89 L237.43,212.30 L236.26,211.68 L235.12,211.01 L234.03,210.31 L232.96,209.57 L231.94,208.79 L230.95,207.98 L230.00,207.13 L229.08,206.24 L228.20,205.32 L227.36,204.36 L226.56,203.37 L225.80,202.34 L225.08,201.27 L224.39,200.18 L223.74,199.04 L223.14,197.87 L222.57,196.67 L222.05,195.43 L221.56,194.16 L221.12,192.85 L220.72,191.50 L220.36,190.11 L220.04,188.67 L219.77,187.19 L219.53,185.66 L219.34,184.07 L219.19,182.40 L219.09,180.63 L219.02,178.68 L219.00,176.20 L219.02,173.72 L219.09,171.77 L219.19,170.00 L219.34,168.33 L219.53,166.74 L219.77,165.21 L220.04,163.73 L220.36,162.29 L220.72,160.90 L221.12,159.55 L221.56,158.24 L222.05,156.97 L222.57,155.73 L223.14,154.53 L223.74,153.36 L224.39,152.22 L225.08,151.13 L225.80,150.06 L226.56,149.03 L227.36,148.04 L228.20,147.08 L229.08,146.16 L230.00,145.27 L230.95,144.42 L231.94,143.61 L232.96,142.83 L234.03,142.09 L235.12,141.39 L236.26,140.72 L237.43,140.10 L238.63,139.51 L239.88,138.96 L241.15,138.45 L242.47,137.99 L243.82,137.56 L245.22,137.17 L246.65,136.82 L248.13,136.51 L249.65,136.24 L251.24,136.02 L252.88,135.83 L254.60,135.69 L256.43,135.58 L258.44,135.52 L261.00,135.50 L263.56,135.52 L265.57,135.58 L267.40,135.69 L269.12,135.83 L270.76,136.02 L272.35,136.24 L273.87,136.51 L275.35,136.82 L276.78,137.17 L278.18,137.56 L279.53,137.99 L280.85,138.45 L282.12,138.96 L283.37,139.51 L284.57,140.10 L285.74,140.72 L286.88,141.39 L287.97,142.09 L289.04,142.83 L290.06,143.61 L291.05,144.42 L292.00,145.27 L292.92,146.16 L293.80,147.08 L294.64,148.04 L295.44,149.03 L296.20,150.06 L296.92,151.13 L297.61,152.22 L298.26,153.36 L298.86,154.53 L299.43,155.73 L299.95,156.97 L300.44,158.24 L300.88,159.55 L301.28,160.90 L301.64,162.29 L301.96,163.73 L302.23,165.21 L302.47,166.74 L302.66,168.33 L302.81,170.00 L302.91,171.77 L302.98,173.72 Z" fill="none" stroke="#999" stroke-width="0.7"/><path d="M302.20,177.40 L302.18,179.85 L302.12,181.76 L302.01,183.51 L301.87,185.15 L301.68,186.72 L301.45,188.23 L301.18,189.69 L300.87,191.10 L300.51,192.47 L300.12,193.80 L299.68,195.09 L299.21,196.35 L298.69,197.57 L298.14,198.75 L297.55,199.91 L296.91,201.02 L296.24,202.10 L295.53,203.15 L294.78,204.17 L293.99,205.15 L293.17,206.09 L292.31,207.00 L291.41,207.87 L290.48,208.71 L289.51,209.51 L288.50,210.28 L287.46,211.01 L286.38,211.70 L285.27,212.35 L284.12,212.97 L282.94,213.55 L281.72,214.09 L280.47,214.59 L279.18,215.05 L277.85,215.47 L276.48,215.86 L275.08,216.20 L273.63,216.50 L272.13,216.77 L270.58,216.99 L268.97,217.17 L267.27,217.32 L265.48,217.42 L263.52,217.48 L261.00,217.50 L258.48,217.48 L256.52,217.42 L254.73,217.32 L253.03,217.17 L251.42,216.99 L249.87,216.77 L248.37,216.50 L246.92,216.20 L245.52,215.86 L244.15,215.47 L242.82,215.05 L241.53,214.59 L240.28,214.09 L239.06,213.55 L237.88,212.97 L236.73,212.35 L235.62,211.70 L234.54,211.01 L233.50,210.28 L232.49,209.51 L231.52,208.71 L230.59,207.87 L229.69,207.00 L228.83,206.09 L228.01,205.15 L227.22,204.17 L226.47,203.15 L225.76,202.10 L225.09,201.02 L224.45,199.91 L223.86,198.75 L223.31,197.57 L222.79,196.35 L222.32,195.09 L221.88,193.80 L221.49,192.47 L221.13,191.10 L220.82,189.69 L220.55,188.23 L220.32,186.72 L220.13,185.15 L219.99,183.51 L219.88,181.76 L219.82,179.85 L219.80,177.40 L219.82,174.95 L219.88,173.04 L219.99,171.29 L220.13,169.65 L220.32,168.08 L220.55,166.57 L220.82,165.11 L221.13,163.70 L221.49,162.33 L221.88,161.00 L222.32,159.71 L222.79,158.45 L223.31,157.23 L223.86,156.05 L224.45,154.89 L225.09,153.78 L225.76,152.70 L226.47,151.65 L227.22,150.63 L228.01,149.65 L228.83,148.71 L229.69,147.80 L230.59,146.93 L231.52,146.09 L232.49,145.29 L233.50,144.52 L234.54,143.79 L235.62,143.10 L236.73,142.45 L237.88,141.83 L239.06,141.25 L240.28,140.71 L241.53,140.21 L242.82,139.75 L244.15,139.33 L245.52,138.94 L246.92,138.60 L248.37,138.30 L249.87,138.03 L251.42,137.81 L253.03,137.63 L254.73,137.48 L256.52,137.38 L258.48,137.32 L261.00,137.30 L263.52,137.32 L265.48,137.38 L267.27,137.48 L268.97,137.63 L270.58,137.81 L272.13,138.03 L273.63,138.30 L275.08,138.60 L276.48,138.94 L277.85,139.33 L279.18,139.75 L280.47,140.21 L281.72,140.71 L282.94,141.25 L284.12,141.83 L285.27,142.45 L286.38,143.10 L287.46,143.79 L288.50,144.52 L289.51,145.29 L290.48,146.09 L291.41,146.93 L292.31,147.80 L293.17,148.71 L293.99,149.65 L294.78,150.63 L295.53,151.65 L296.24,152.70 L296.91,153.78 L297.55,154.89 L298.14,156.05 L298.69,157.23 L299.21,158.45 L299.68,159.71 L300.12,161.00 L300.51,162.33 L300.87,163.70 L301.18,165.11 L301.45,166.57 L301.68,168.08 L301.87,169.65 L302.01,171.29 L302.12,173.04 L302.18,174.95 Z" fill="none" stroke="#aaa" stroke-width="0.6"/></g>
<g transform="translate(260.80,167.00) rotate(-45.0)"><ellipse rx="2.5" ry="1.85" fill="#2c2c2c" stroke="#1a1a1a" stroke-width="0.5"/><ellipse cx="-0.5" cy="0.3" rx="0.95" ry="0.7" fill="#eee"/></g><g transform="translate(265.75,168.93) rotate(0.0)"><ellipse rx="2.5" ry="1.85" fill="#2c2c2c" stroke="#1a1a1a" stroke-width="0.5"/><ellipse cx="-0.5" cy="0.3" rx="0.95" ry="0.7" fill="#eee"/></g><g transform="translate(267.80,173.60) rotate(45.0)"><ellipse rx="2.5" ry="1.85" fill="#2c2c2c" stroke="#1a1a1a" stroke-width="0.5"/><ellipse cx="-0.5" cy="0.3" rx="0.95" ry="0.7" fill="#eee"/></g><g transform="translate(265.75,177.94) rotate(90.0)"><ellipse rx="2.5" ry="1.85" fill="#2c2c2c" stroke="#1a1a1a" stroke-width="0.5"/><ellipse cx="-0.5" cy="0.3" rx="0.95" ry="0.7" fill="#eee"/></g><g transform="translate(260.80,179.74) rotate(135.0)"><ellipse rx="2.5" ry="1.85" fill="#2c2c2c" stroke="#1a1a1a" stroke-width="0.5"/><ellipse cx="-0.5" cy="0.3" rx="0.95" ry="0.7" fill="#eee"/></g><g transform="translate(255.85,177.94) rotate(180.0)"><ellipse rx="2.5" ry="1.85" fill="#2c2c2c" stroke="#1a1a1a" stroke-width="0.5"/><ellipse cx="-0.5" cy="0.3" rx="0.95" ry="0.7" fill="#eee"/></g><g transform="translate(253.80,173.60) rotate(225.0)"><ellipse rx="2.5" ry="1.85" fill="#2c2c2c" stroke="#1a1a1a" stroke-width="0.5"/><ellipse cx="-0.5" cy="0.3" rx="0.95" ry="0.7" fill="#eee"/></g><g transform="translate(255.85,168.93) rotate(270.0)"><ellipse rx="2.5" ry="1.85" fill="#2c2c2c" stroke="#1a1a1a" stroke-width="0.5"/><ellipse cx="-0.5" cy="0.3" rx="0.95" ry="0.7" fill="#eee"/></g><g transform="translate(260.80,160.40) rotate(-45.0)"><ellipse rx="3.05" ry="2.1" fill="#2c2c2c" stroke="#1a1a1a" stroke-width="0.5"/><ellipse cx="-0.5" cy="0.3" rx="0.95" ry="0.7" fill="#eee"/></g><g transform="translate(267.80,162.17) rotate(-15.0)"><ellipse rx="3.05" ry="2.1" fill="#2c2c2c" stroke="#1a1a1a" stroke-width="0.5"/><ellipse cx="-0.5" cy="0.3" rx="0.95" ry="0.7" fill="#eee"/></g><g transform="translate(272.92,167.00) rotate(15.0)"><ellipse rx="3.05" ry="2.1" fill="#2c2c2c" stroke="#1a1a1a" stroke-width="0.5"/><ellipse cx="-0.5" cy="0.3" rx="0.95" ry="0.7" fill="#eee"/></g><g transform="translate(274.79,173.60) rotate(45.0)"><ellipse rx="3.05" ry="2.1" fill="#2c2c2c" stroke="#1a1a1a" stroke-width="0.5"/><ellipse cx="-0.5" cy="0.3" rx="0.95" ry="0.7" fill="#eee"/></g><g transform="translate(272.92,179.74) rotate(75.0)"><ellipse rx="3.05" ry="2.1" fill="#2c2c2c" stroke="#1a1a1a" stroke-width="0.5"/><ellipse cx="-0.5" cy="0.3" rx="0.95" ry="0.7" fill="#eee"/></g><g transform="translate(267.80,184.23) rotate(105.0)"><ellipse rx="3.05" ry="2.1" fill="#2c2c2c" stroke="#1a1a1a" stroke-width="0.5"/><ellipse cx="-0.5" cy="0.3" rx="0.95" ry="0.7" fill="#eee"/></g><g transform="translate(260.80,185.88) rotate(135.0)"><ellipse rx="3.05" ry="2.1" fill="#2c2c2c" stroke="#1a1a1a" stroke-width="0.5"/><ellipse cx="-0.5" cy="0.3" rx="0.95" ry="0.7" fill="#eee"/></g><g transform="translate(253.80,184.23) rotate(165.0)"><ellipse rx="3.05" ry="2.1" fill="#2c2c2c" stroke="#1a1a1a" stroke-width="0.5"/><ellipse cx="-0.5" cy="0.3" rx="0.95" ry="0.7" fill="#eee"/></g><g transform="translate(248.68,179.74) rotate(195.0)"><ellipse rx="3.05" ry="2.1" fill="#2c2c2c" stroke="#1a1a1a" stroke-width="0.5"/><ellipse cx="-0.5" cy="0.3" rx="0.95" ry="0.7" fill="#eee"/></g><g transform="translate(246.81,173.60) rotate(225.0)"><ellipse rx="3.05" ry="2.1" fill="#2c2c2c" stroke="#1a1a1a" stroke-width="0.5"/><ellipse cx="-0.5" cy="0.3" rx="0.95" ry="0.7" fill="#eee"/></g><g transform="translate(248.68,167.00) rotate(255.0)"><ellipse rx="3.05" ry="2.1" fill="#2c2c2c" stroke="#1a1a1a" stroke-width="0.5"/><ellipse cx="-0.5" cy="0.3" rx="0.95" ry="0.7" fill="#eee"/></g><g transform="translate(253.80,162.17) rotate(285.0)"><ellipse rx="3.05" ry="2.1" fill="#2c2c2c" stroke="#1a1a1a" stroke-width="0.5"/><ellipse cx="-0.5" cy="0.3" rx="0.95" ry="0.7" fill="#eee"/></g><g transform="translate(260.80,153.60) rotate(-45.0)"><ellipse rx="3.05" ry="2.1" fill="#2c2c2c" stroke="#1a1a1a" stroke-width="0.5"/><ellipse cx="-0.5" cy="0.3" rx="0.95" ry="0.7" fill="#eee"/></g><g transform="translate(270.00,155.58) rotate(-19.3)"><ellipse rx="3.05" ry="2.1" fill="#2c2c2c" stroke="#1a1a1a" stroke-width="0.5"/><ellipse cx="-0.5" cy="0.3" rx="0.95" ry="0.7" fill="#eee"/></g><g transform="translate(277.37,161.13) rotate(6.4)"><ellipse rx="3.05" ry="2.1" fill="#2c2c2c" stroke="#1a1a1a" stroke-width="0.5"/><ellipse cx="-0.5" cy="0.3" rx="0.95" ry="0.7" fill="#eee"/></g><g transform="translate(281.47,169.15) rotate(32.1)"><ellipse rx="3.05" ry="2.1" fill="#2c2c2c" stroke="#1a1a1a" stroke-width="0.5"/><ellipse cx="-0.5" cy="0.3" rx="0.95" ry="0.7" fill="#eee"/></g><g transform="translate(281.47,177.74) rotate(57.9)"><ellipse rx="3.05" ry="2.1" fill="#2c2c2c" stroke="#1a1a1a" stroke-width="0.5"/><ellipse cx="-0.5" cy="0.3" rx="0.95" ry="0.7" fill="#eee"/></g><g transform="translate(277.37,185.20) rotate(83.6)"><ellipse rx="3.05" ry="2.1" fill="#2c2c2c" stroke="#1a1a1a" stroke-width="0.5"/><ellipse cx="-0.5" cy="0.3" rx="0.95" ry="0.7" fill="#eee"/></g><g transform="translate(270.00,190.36) rotate(109.3)"><ellipse rx="3.05" ry="2.1" fill="#2c2c2c" stroke="#1a1a1a" stroke-width="0.5"/><ellipse cx="-0.5" cy="0.3" rx="0.95" ry="0.7" fill="#eee"/></g><g transform="translate(260.80,192.20) rotate(135.0)"><ellipse rx="3.05" ry="2.1" fill="#2c2c2c" stroke="#1a1a1a" stroke-width="0.5"/><ellipse cx="-0.5" cy="0.3" rx="0.95" ry="0.7" fill="#eee"/></g><g transform="translate(251.60,190.36) rotate(160.7)"><ellipse rx="3.05" ry="2.1" fill="#2c2c2c" stroke="#1a1a1a" stroke-width="0.5"/><ellipse cx="-0.5" cy="0.3" rx="0.95" ry="0.7" fill="#eee"/></g><g transform="translate(244.23,185.20) rotate(186.4)"><ellipse rx="3.05" ry="2.1" fill="#2c2c2c" stroke="#1a1a1a" stroke-width="0.5"/><ellipse cx="-0.5" cy="0.3" rx="0.95" ry="0.7" fill="#eee"/></g><g transform="translate(240.13,177.74) rotate(212.1)"><ellipse rx="3.05" ry="2.1" fill="#2c2c2c" stroke="#1a1a1a" stroke-width="0.5"/><ellipse cx="-0.5" cy="0.3" rx="0.95" ry="0.7" fill="#eee"/></g><g transform="translate(240.13,169.15) rotate(237.9)"><ellipse rx="3.05" ry="2.1" fill="#2c2c2c" stroke="#1a1a1a" stroke-width="0.5"/><ellipse cx="-0.5" cy="0.3" rx="0.95" ry="0.7" fill="#eee"/></g><g transform="translate(244.23,161.13) rotate(263.6)"><ellipse rx="3.05" ry="2.1" fill="#2c2c2c" stroke="#1a1a1a" stroke-width="0.5"/><ellipse cx="-0.5" cy="0.3" rx="0.95" ry="0.7" fill="#eee"/></g><g transform="translate(251.60,155.58) rotate(289.3)"><ellipse rx="3.05" ry="2.1" fill="#2c2c2c" stroke="#1a1a1a" stroke-width="0.5"/><ellipse cx="-0.5" cy="0.3" rx="0.95" ry="0.7" fill="#eee"/></g><g transform="translate(260.80,146.70) rotate(-45.0)"><ellipse rx="3.05" ry="2.1" fill="#2c2c2c" stroke="#1a1a1a" stroke-width="0.5"/><ellipse cx="-0.5" cy="0.3" rx="0.95" ry="0.7" fill="#eee"/></g><g transform="translate(271.71,148.75) rotate(-22.5)"><ellipse rx="3.05" ry="2.1" fill="#2c2c2c" stroke="#1a1a1a" stroke-width="0.5"/><ellipse cx="-0.5" cy="0.3" rx="0.95" ry="0.7" fill="#eee"/></g><g transform="translate(280.96,154.58) rotate(0.0)"><ellipse rx="3.05" ry="2.1" fill="#2c2c2c" stroke="#1a1a1a" stroke-width="0.5"/><ellipse cx="-0.5" cy="0.3" rx="0.95" ry="0.7" fill="#eee"/></g><g transform="translate(287.14,163.31) rotate(22.5)"><ellipse rx="3.05" ry="2.1" fill="#2c2c2c" stroke="#1a1a1a" stroke-width="0.5"/><ellipse cx="-0.5" cy="0.3" rx="0.95" ry="0.7" fill="#eee"/></g><g transform="translate(289.31,173.60) rotate(45.0)"><ellipse rx="3.05" ry="2.1" fill="#2c2c2c" stroke="#1a1a1a" stroke-width="0.5"/><ellipse cx="-0.5" cy="0.3" rx="0.95" ry="0.7" fill="#eee"/></g><g transform="translate(287.14,183.17) rotate(67.5)"><ellipse rx="3.05" ry="2.1" fill="#2c2c2c" stroke="#1a1a1a" stroke-width="0.5"/><ellipse cx="-0.5" cy="0.3" rx="0.95" ry="0.7" fill="#eee"/></g><g transform="translate(280.96,191.29) rotate(90.0)"><ellipse rx="3.05" ry="2.1" fill="#2c2c2c" stroke="#1a1a1a" stroke-width="0.5"/><ellipse cx="-0.5" cy="0.3" rx="0.95" ry="0.7" fill="#eee"/></g><g transform="translate(271.71,196.71) rotate(112.5)"><ellipse rx="3.05" ry="2.1" fill="#2c2c2c" stroke="#1a1a1a" stroke-width="0.5"/><ellipse cx="-0.5" cy="0.3" rx="0.95" ry="0.7" fill="#eee"/></g><g transform="translate(260.80,198.62) rotate(135.0)"><ellipse rx="3.05" ry="2.1" fill="#2c2c2c" stroke="#1a1a1a" stroke-width="0.5"/><ellipse cx="-0.5" cy="0.3" rx="0.95" ry="0.7" fill="#eee"/></g><g transform="translate(249.89,196.71) rotate(157.5)"><ellipse rx="3.05" ry="2.1" fill="#2c2c2c" stroke="#1a1a1a" stroke-width="0.5"/><ellipse cx="-0.5" cy="0.3" rx="0.95" ry="0.7" fill="#eee"/></g><g transform="translate(240.64,191.29) rotate(180.0)"><ellipse rx="3.05" ry="2.1" fill="#2c2c2c" stroke="#1a1a1a" stroke-width="0.5"/><ellipse cx="-0.5" cy="0.3" rx="0.95" ry="0.7" fill="#eee"/></g><g transform="translate(234.46,183.17) rotate(202.5)"><ellipse rx="3.05" ry="2.1" fill="#2c2c2c" stroke="#1a1a1a" stroke-width="0.5"/><ellipse cx="-0.5" cy="0.3" rx="0.95" ry="0.7" fill="#eee"/></g><g transform="translate(232.29,173.60) rotate(225.0)"><ellipse rx="3.05" ry="2.1" fill="#2c2c2c" stroke="#1a1a1a" stroke-width="0.5"/><ellipse cx="-0.5" cy="0.3" rx="0.95" ry="0.7" fill="#eee"/></g><g transform="translate(234.46,163.31) rotate(247.5)"><ellipse rx="3.05" ry="2.1" fill="#2c2c2c" stroke="#1a1a1a" stroke-width="0.5"/><ellipse cx="-0.5" cy="0.3" rx="0.95" ry="0.7" fill="#eee"/></g><g transform="translate(240.64,154.58) rotate(270.0)"><ellipse rx="3.05" ry="2.1" fill="#2c2c2c" stroke="#1a1a1a" stroke-width="0.5"/><ellipse cx="-0.5" cy="0.3" rx="0.95" ry="0.7" fill="#eee"/></g><g transform="translate(249.89,148.75) rotate(292.5)"><ellipse rx="3.05" ry="2.1" fill="#2c2c2c" stroke="#1a1a1a" stroke-width="0.5"/><ellipse cx="-0.5" cy="0.3" rx="0.95" ry="0.7" fill="#eee"/></g><g transform="translate(260.80,140.20) rotate(-45.0)"><ellipse rx="3.05" ry="2.1" fill="#2c2c2c" stroke="#1a1a1a" stroke-width="0.5"/><ellipse cx="-0.5" cy="0.3" rx="0.95" ry="0.7" fill="#eee"/></g><g transform="translate(272.91,142.21) rotate(-25.0)"><ellipse rx="3.05" ry="2.1" fill="#2c2c2c" stroke="#1a1a1a" stroke-width="0.5"/><ellipse cx="-0.5" cy="0.3" rx="0.95" ry="0.7" fill="#eee"/></g><g transform="translate(283.56,148.01) rotate(-5.0)"><ellipse rx="3.05" ry="2.1" fill="#2c2c2c" stroke="#1a1a1a" stroke-width="0.5"/><ellipse cx="-0.5" cy="0.3" rx="0.95" ry="0.7" fill="#eee"/></g><g transform="translate(291.46,156.90) rotate(15.0)"><ellipse rx="3.05" ry="2.1" fill="#2c2c2c" stroke="#1a1a1a" stroke-width="0.5"/><ellipse cx="-0.5" cy="0.3" rx="0.95" ry="0.7" fill="#eee"/></g><g transform="translate(295.67,167.80) rotate(35.0)"><ellipse rx="3.05" ry="2.1" fill="#2c2c2c" stroke="#1a1a1a" stroke-width="0.5"/><ellipse cx="-0.5" cy="0.3" rx="0.95" ry="0.7" fill="#eee"/></g><g transform="translate(295.67,178.99) rotate(55.0)"><ellipse rx="3.05" ry="2.1" fill="#2c2c2c" stroke="#1a1a1a" stroke-width="0.5"/><ellipse cx="-0.5" cy="0.3" rx="0.95" ry="0.7" fill="#eee"/></g><g transform="translate(291.46,189.13) rotate(75.0)"><ellipse rx="3.05" ry="2.1" fill="#2c2c2c" stroke="#1a1a1a" stroke-width="0.5"/><ellipse cx="-0.5" cy="0.3" rx="0.95" ry="0.7" fill="#eee"/></g><g transform="translate(283.56,197.39) rotate(95.0)"><ellipse rx="3.05" ry="2.1" fill="#2c2c2c" stroke="#1a1a1a" stroke-width="0.5"/><ellipse cx="-0.5" cy="0.3" rx="0.95" ry="0.7" fill="#eee"/></g><g transform="translate(272.91,202.79) rotate(115.0)"><ellipse rx="3.05" ry="2.1" fill="#2c2c2c" stroke="#1a1a1a" stroke-width="0.5"/><ellipse cx="-0.5" cy="0.3" rx="0.95" ry="0.7" fill="#eee"/></g><g transform="translate(260.80,204.66) rotate(135.0)"><ellipse rx="3.05" ry="2.1" fill="#2c2c2c" stroke="#1a1a1a" stroke-width="0.5"/><ellipse cx="-0.5" cy="0.3" rx="0.95" ry="0.7" fill="#eee"/></g><g transform="translate(248.69,202.79) rotate(155.0)"><ellipse rx="3.05" ry="2.1" fill="#2c2c2c" stroke="#1a1a1a" stroke-width="0.5"/><ellipse cx="-0.5" cy="0.3" rx="0.95" ry="0.7" fill="#eee"/></g><g transform="translate(238.04,197.39) rotate(175.0)"><ellipse rx="3.05" ry="2.1" fill="#2c2c2c" stroke="#1a1a1a" stroke-width="0.5"/><ellipse cx="-0.5" cy="0.3" rx="0.95" ry="0.7" fill="#eee"/></g><g transform="translate(230.14,189.13) rotate(195.0)"><ellipse rx="3.05" ry="2.1" fill="#2c2c2c" stroke="#1a1a1a" stroke-width="0.5"/><ellipse cx="-0.5" cy="0.3" rx="0.95" ry="0.7" fill="#eee"/></g><g transform="translate(225.93,178.99) rotate(215.0)"><ellipse rx="3.05" ry="2.1" fill="#2c2c2c" stroke="#1a1a1a" stroke-width="0.5"/><ellipse cx="-0.5" cy="0.3" rx="0.95" ry="0.7" fill="#eee"/></g><g transform="translate(225.93,167.80) rotate(235.0)"><ellipse rx="3.05" ry="2.1" fill="#2c2c2c" stroke="#1a1a1a" stroke-width="0.5"/><ellipse cx="-0.5" cy="0.3" rx="0.95" ry="0.7" fill="#eee"/></g><g transform="translate(230.14,156.90) rotate(255.0)"><ellipse rx="3.05" ry="2.1" fill="#2c2c2c" stroke="#1a1a1a" stroke-width="0.5"/><ellipse cx="-0.5" cy="0.3" rx="0.95" ry="0.7" fill="#eee"/></g><g transform="translate(238.04,148.01) rotate(275.0)"><ellipse rx="3.05" ry="2.1" fill="#2c2c2c" stroke="#1a1a1a" stroke-width="0.5"/><ellipse cx="-0.5" cy="0.3" rx="0.95" ry="0.7" fill="#eee"/></g><g transform="translate(248.69,142.21) rotate(295.0)"><ellipse rx="3.05" ry="2.1" fill="#2c2c2c" stroke="#1a1a1a" stroke-width="0.5"/><ellipse cx="-0.5" cy="0.3" rx="0.95" ry="0.7" fill="#eee"/></g>
<circle cx="260.8" cy="174.2" r="1.6" fill="none" stroke="#777" stroke-width="0.6"/>
<path d="M206.5,316.4 L251,316.4 Q255,320 261,320 Q266,320 270.8,318 Q271.8,332 270.8,345.6 L261,345.6 Q256,346 253,348.3 L206.5,348.3 Q204.5,348 203.5,346 Q202.8,345.2 201.5,345.1 L173.5,345.1 Q171.5,345 171.5,343 L171.5,321.5 Q171.5,319.5 173.5,319.5 L201.5,319.5 Q202.8,319.4 203.5,318.6 Q204.5,316.6 206.5,316.4 Z" stroke="#262626" stroke-width="1.2" fill="#fff" />
<rect x="175.2" y="315.3" width="26.6" height="4.2" rx="1" fill="#fff" stroke="#1c1c1c" stroke-width="1.1"/>
<rect x="175.2" y="345.1" width="26.6" height="4.2" rx="1" fill="#fff" stroke="#1c1c1c" stroke-width="1.1"/>
<line x1="176" y1="316.1" x2="201" y2="316.1" stroke="#444" stroke-width="0.9" />
<line x1="176" y1="348.5" x2="201" y2="348.5" stroke="#444" stroke-width="0.9" />
<line x1="237" y1="316.8" x2="237" y2="347.8" stroke="#aaa" stroke-width="0.9" />
<line x1="237.8" y1="57.8" x2="350.2" y2="57.8" stroke="#4a4a4a" stroke-width="1.0" />
<line x1="239.5" y1="587.8" x2="250" y2="587.8" stroke="#4a4a4a" stroke-width="1.0" />
<line x1="266.2" y1="587.8" x2="350.3" y2="587.8" stroke="#4a4a4a" stroke-width="1.0" />
<line x1="340" y1="66" x2="340" y2="308.2" stroke="#666" stroke-width="1.0" />
<line x1="340" y1="336.2" x2="340" y2="579" stroke="#666" stroke-width="1.0" />
<polygon points="340.00,57.80 336.75,66.80 343.25,66.80" fill="#111"/>
<polygon points="340.00,587.60 336.75,578.60 343.25,578.60" fill="#111"/>
<text x="340.4" y="326.1" font-size="12" text-anchor="middle" fill="#222" >660 mm</text>
<ellipse cx="103.9" cy="553.3" rx="35.9" ry="34.7" fill="#fff" stroke="#1c1c1c" stroke-width="1.3"/>
<ellipse cx="103.9" cy="552.4" rx="25.4" ry="24.9" fill="#fff" stroke="#1c1c1c" stroke-width="1.3"/>
<ellipse cx="103.9" cy="552.5" rx="23.1" ry="22.6" fill="none" stroke="#999" stroke-width="0.7"/>
<path d="M95.7,577 L112.5,577 L110.5,596.2 L97.2,596.2 Z" stroke="#262626" stroke-width="1.2" fill="#fff" />
<text x="107" y="552.6" font-size="7.2" font-weight="bold" font-style="italic" text-anchor="middle" fill="#222">mira</text>
<path d="M100,553.6 Q106,555.5 114,552.8" stroke="#333" stroke-width="0.6" fill="none" />
<text x="100.7" y="559.6" font-size="3.3" font-weight="bold" text-anchor="middle" fill="#222" textLength="15" lengthAdjust="spacingAndGlyphs">Minimalist</text>
<line x1="67.4" y1="481" x2="67.4" y2="533.6" stroke="#4a4a4a" stroke-width="1.0" />
<line x1="138.5" y1="481" x2="138.5" y2="532" stroke="#4a4a4a" stroke-width="1.0" />
<line x1="76" y1="491.1" x2="130" y2="491.1" stroke="#4a4a4a" stroke-width="1.0" />
<polygon points="67.60,491.10 76.60,487.85 76.60,494.35" fill="#111"/>
<polygon points="138.30,491.10 129.30,487.85 129.30,494.35" fill="#111"/>
<text x="102.5" y="481.1" font-size="12" text-anchor="middle" fill="#222" >96 mm</text>
<line x1="11.2" y1="518.2" x2="80" y2="518.2" stroke="#4a4a4a" stroke-width="1.0" />
<line x1="11.2" y1="587.9" x2="82" y2="587.9" stroke="#4a4a4a" stroke-width="1.0" />
<line x1="21.4" y1="527" x2="21.4" y2="544.7" stroke="#4a4a4a" stroke-width="1.0" />
<line x1="21.4" y1="559.9" x2="21.4" y2="579" stroke="#4a4a4a" stroke-width="1.0" />
<polygon points="21.40,518.30 18.15,527.30 24.65,527.30" fill="#111"/>
<polygon points="21.40,587.80 18.15,578.80 24.65,578.80" fill="#111"/>
<text x="21.7" y="555.3" font-size="12" text-anchor="middle" fill="#222" >94 mm</text>
<path d="M71.75,592.2 L84.30000000000001,604.7 L76.9,604.7 L76.9,614.7 L86.80000000000001,614.7 L86.80000000000001,636.7 L57.099999999999994,636.7 L57.099999999999994,614.7 L66.4,614.7 L66.4,604.7 L59.400000000000006,604.7 Z" fill="#e61f28"/>
<path d="M71.80,617.6 C72.70,620.8 76.20,625.2 76.20,629.9 A4.4,4.8 0 0 1 67.40,629.9 C67.40,625.2 70.90,620.8 71.80,617.6 Z" fill="#fff"/>
<path d="M130.75,592.2 L143.3,604.7 L135.9,604.7 L135.9,614.7 L145.8,614.7 L145.8,636.7 L116.1,636.7 L116.1,614.7 L125.4,614.7 L125.4,604.7 L118.4,604.7 Z" fill="#0b82c4"/>
<path d="M130.80,617.6 C131.70,620.8 135.20,625.2 135.20,629.9 A4.4,4.8 0 0 1 126.40,629.9 C126.40,625.2 129.90,620.8 130.80,617.6 Z" fill="#fff"/>
<path d="M467.50,346.50 L467.63,349.26 L467.77,352.02 L467.91,354.79 L468.05,357.57 L468.20,360.35 L468.34,363.14 L468.49,365.93 L468.65,368.72 L468.80,371.52 L468.96,374.32 L469.12,377.12 L469.28,379.92 L469.44,382.73 L469.61,385.54 L469.78,388.35 L469.95,391.17 L470.12,393.98 L470.29,396.80 L470.46,399.61 L470.64,402.43 L470.81,405.25 L470.99,408.06 L471.17,410.88 L471.35,413.69 L471.53,416.50 L471.71,419.31 L471.89,422.12 L472.07,424.93 L472.25,427.73 L472.43,430.53 L472.61,433.33 L472.79,436.12 L472.97,438.91 L473.15,441.70 L473.33,444.48 L473.51,447.26 L473.69,450.03 L473.87,452.80 L474.05,455.56 L474.23,458.31 L474.40,461.06 L474.58,463.80 L474.75,466.54 L474.92,469.26 L475.09,471.98 L475.26,474.70 L475.43,477.40 L475.59,480.10 L475.76,482.78 L475.92,485.46 L476.08,488.13 L476.23,490.79 L476.39,493.43 L476.54,496.07 L476.69,498.70 L476.84,501.32 L476.98,503.92 L477.13,506.51 L477.26,509.09 L477.40,511.66 L477.53,514.22 L477.66,516.76 L477.79,519.29 L477.91,521.81 L478.03,524.32 L478.14,526.80 L478.25,529.28 L478.36,531.74 L478.46,534.18 L478.56,536.61 L478.66,539.03 L478.75,541.43 L478.83,543.81 L478.92,546.17 L478.99,548.52 L479.06,550.85 L479.13,553.17 L479.19,555.46 L479.25,557.74 L479.30,560.00 L479.30,562.00 L479.30,564.00 L479.30,566.00 L479.30,568.00 L479.30,570.00 L479.30,572.00 L479.30,574.00 L479.30,576.00 L479.30,578.00 L479.30,580.00 L479.30,582.00 L479.30,584.00 L479.30,586.00 L479.30,588.00 L479.30,590.00 L479.30,592.00 L479.30,594.00 L479.30,596.00 L479.30,598.00 L479.30,600.00 L479.30,602.00 L479.30,604.00 L479.30,606.00 L479.30,608.00 L479.30,610.00 L479.30,612.00 L479.30,614.00 L479.30,616.00 L479.30,618.00 L479.30,620.00 L479.30,622.00 L479.30,624.00 L479.30,626.00 L479.30,628.00 L479.30,630.00 L479.30,632.00 L479.30,634.00 L479.30,636.00 L479.30,638.00 L479.30,640.00 L479.30,642.00 L479.30,644.00 L479.30,646.00 L479.30,648.00 L479.30,650.00 L479.30,652.00 L479.30,654.00 L479.30,656.00 L479.30,658.00 L479.30,660.00 L479.30,662.00 L479.30,664.00 L479.30,666.00 L479.30,668.00 L479.30,670.00 L479.30,672.00 L479.30,674.00 L479.30,676.00 L479.30,678.00 L479.30,680.00 L479.30,682.00 L479.30,684.00 L479.30,686.00 L479.30,688.00 L479.30,690.00 L479.30,692.00 L479.30,694.00 L479.30,696.00 L479.30,698.00 L479.30,700.00 L479.30,702.00 L479.30,704.00 L479.30,706.00 L479.30,708.00 L479.30,710.00 L479.30,712.00 L479.30,714.00 L479.30,716.00 L479.30,718.00 L479.30,720.00 L479.30,722.00 L479.30,724.00 L479.30,726.00 L479.30,728.00 L479.30,730.00 L479.30,732.00 L479.30,734.00 L479.30,736.00 L479.30,738.00 L479.30,740.00 L479.30,742.00 L479.35,744.39 L479.48,746.54 L479.71,748.48 L480.02,750.19 L480.42,751.67 L480.90,752.94 L481.47,753.98 L482.11,754.81 L482.84,755.43 L483.65,755.83 L484.54,756.02 L485.50,756.00 L486.50,755.82 L487.56,755.48 L488.65,754.98 L489.76,754.31 L490.87,753.48 L491.96,752.48 L493.01,751.31 L494.00,749.97 L494.91,748.44 L495.73,746.73 L496.42,744.83 L496.98,742.75 L497.38,740.47 L497.60,738.00 L497.68,735.59 L497.74,733.17 L497.79,730.74 L497.82,728.29 L497.84,725.83 L497.84,723.36 L497.83,720.88 L497.80,718.38 L497.76,715.88 L497.71,713.38 L497.65,710.86 L497.58,708.34 L497.50,705.81 L497.40,703.27 L497.30,700.73 L497.20,698.19 L497.08,695.65 L496.96,693.10 L496.83,690.55 L496.70,688.00 L496.70,685.98 L496.70,683.96 L496.69,681.93 L496.69,679.91 L496.69,677.89 L496.69,675.87 L496.68,673.84 L496.68,671.82 L496.68,669.80 L496.68,667.78 L496.68,665.76 L496.67,663.73 L496.67,661.71 L496.67,659.69 L496.67,657.67 L496.66,655.64 L496.66,653.62 L496.66,651.60 L496.66,649.58 L496.66,647.56 L496.65,645.53 L496.65,643.51 L496.65,641.49 L496.65,639.47 L496.64,637.44 L496.64,635.42 L496.64,633.40 L496.64,631.38 L496.64,629.36 L496.63,627.33 L496.63,625.31 L496.63,623.29 L496.63,621.27 L496.62,619.24 L496.62,617.22 L496.62,615.20 L496.62,613.18 L496.62,611.16 L496.61,609.13 L496.61,607.11 L496.61,605.09 L496.61,603.07 L496.60,601.04 L496.60,599.02 L496.60,597.00" stroke="#3c3c3c" stroke-width="10.5" fill="none" stroke-linejoin="round"/>
<path d="M467.50,346.50 L467.63,349.26 L467.77,352.02 L467.91,354.79 L468.05,357.57 L468.20,360.35 L468.34,363.14 L468.49,365.93 L468.65,368.72 L468.80,371.52 L468.96,374.32 L469.12,377.12 L469.28,379.92 L469.44,382.73 L469.61,385.54 L469.78,388.35 L469.95,391.17 L470.12,393.98 L470.29,396.80 L470.46,399.61 L470.64,402.43 L470.81,405.25 L470.99,408.06 L471.17,410.88 L471.35,413.69 L471.53,416.50 L471.71,419.31 L471.89,422.12 L472.07,424.93 L472.25,427.73 L472.43,430.53 L472.61,433.33 L472.79,436.12 L472.97,438.91 L473.15,441.70 L473.33,444.48 L473.51,447.26 L473.69,450.03 L473.87,452.80 L474.05,455.56 L474.23,458.31 L474.40,461.06 L474.58,463.80 L474.75,466.54 L474.92,469.26 L475.09,471.98 L475.26,474.70 L475.43,477.40 L475.59,480.10 L475.76,482.78 L475.92,485.46 L476.08,488.13 L476.23,490.79 L476.39,493.43 L476.54,496.07 L476.69,498.70 L476.84,501.32 L476.98,503.92 L477.13,506.51 L477.26,509.09 L477.40,511.66 L477.53,514.22 L477.66,516.76 L477.79,519.29 L477.91,521.81 L478.03,524.32 L478.14,526.80 L478.25,529.28 L478.36,531.74 L478.46,534.18 L478.56,536.61 L478.66,539.03 L478.75,541.43 L478.83,543.81 L478.92,546.17 L478.99,548.52 L479.06,550.85 L479.13,553.17 L479.19,555.46 L479.25,557.74 L479.30,560.00 L479.30,562.00 L479.30,564.00 L479.30,566.00 L479.30,568.00 L479.30,570.00 L479.30,572.00 L479.30,574.00 L479.30,576.00 L479.30,578.00 L479.30,580.00 L479.30,582.00 L479.30,584.00 L479.30,586.00 L479.30,588.00 L479.30,590.00 L479.30,592.00 L479.30,594.00 L479.30,596.00 L479.30,598.00 L479.30,600.00 L479.30,602.00 L479.30,604.00 L479.30,606.00 L479.30,608.00 L479.30,610.00 L479.30,612.00 L479.30,614.00 L479.30,616.00 L479.30,618.00 L479.30,620.00 L479.30,622.00 L479.30,624.00 L479.30,626.00 L479.30,628.00 L479.30,630.00 L479.30,632.00 L479.30,634.00 L479.30,636.00 L479.30,638.00 L479.30,640.00 L479.30,642.00 L479.30,644.00 L479.30,646.00 L479.30,648.00 L479.30,650.00 L479.30,652.00 L479.30,654.00 L479.30,656.00 L479.30,658.00 L479.30,660.00 L479.30,662.00 L479.30,664.00 L479.30,666.00 L479.30,668.00 L479.30,670.00 L479.30,672.00 L479.30,674.00 L479.30,676.00 L479.30,678.00 L479.30,680.00 L479.30,682.00 L479.30,684.00 L479.30,686.00 L479.30,688.00 L479.30,690.00 L479.30,692.00 L479.30,694.00 L479.30,696.00 L479.30,698.00 L479.30,700.00 L479.30,702.00 L479.30,704.00 L479.30,706.00 L479.30,708.00 L479.30,710.00 L479.30,712.00 L479.30,714.00 L479.30,716.00 L479.30,718.00 L479.30,720.00 L479.30,722.00 L479.30,724.00 L479.30,726.00 L479.30,728.00 L479.30,730.00 L479.30,732.00 L479.30,734.00 L479.30,736.00 L479.30,738.00 L479.30,740.00 L479.30,742.00 L479.35,744.39 L479.48,746.54 L479.71,748.48 L480.02,750.19 L480.42,751.67 L480.90,752.94 L481.47,753.98 L482.11,754.81 L482.84,755.43 L483.65,755.83 L484.54,756.02 L485.50,756.00 L486.50,755.82 L487.56,755.48 L488.65,754.98 L489.76,754.31 L490.87,753.48 L491.96,752.48 L493.01,751.31 L494.00,749.97 L494.91,748.44 L495.73,746.73 L496.42,744.83 L496.98,742.75 L497.38,740.47 L497.60,738.00 L497.68,735.59 L497.74,733.17 L497.79,730.74 L497.82,728.29 L497.84,725.83 L497.84,723.36 L497.83,720.88 L497.80,718.38 L497.76,715.88 L497.71,713.38 L497.65,710.86 L497.58,708.34 L497.50,705.81 L497.40,703.27 L497.30,700.73 L497.20,698.19 L497.08,695.65 L496.96,693.10 L496.83,690.55 L496.70,688.00 L496.70,685.98 L496.70,683.96 L496.69,681.93 L496.69,679.91 L496.69,677.89 L496.69,675.87 L496.68,673.84 L496.68,671.82 L496.68,669.80 L496.68,667.78 L496.68,665.76 L496.67,663.73 L496.67,661.71 L496.67,659.69 L496.67,657.67 L496.66,655.64 L496.66,653.62 L496.66,651.60 L496.66,649.58 L496.66,647.56 L496.65,645.53 L496.65,643.51 L496.65,641.49 L496.65,639.47 L496.64,637.44 L496.64,635.42 L496.64,633.40 L496.64,631.38 L496.64,629.36 L496.63,627.33 L496.63,625.31 L496.63,623.29 L496.63,621.27 L496.62,619.24 L496.62,617.22 L496.62,615.20 L496.62,613.18 L496.62,611.16 L496.61,609.13 L496.61,607.11 L496.61,605.09 L496.61,603.07 L496.60,601.04 L496.60,599.02 L496.60,597.00" stroke="#fff" stroke-width="8.3" fill="none" stroke-linejoin="round"/>
<path d="M463.45,346.69 C463.55,348.69 471.64,348.30 471.55,346.31 M463.64,350.54 C463.74,352.54 471.83,352.14 471.73,350.15 M463.83,354.39 C463.93,356.39 472.02,355.99 471.92,353.99 M464.03,358.25 C464.13,360.24 472.22,359.82 472.12,357.82 M464.23,362.09 C464.34,364.09 472.43,363.66 472.32,361.67 M464.44,365.94 C464.55,367.94 472.63,367.50 472.53,365.51 M464.65,369.79 C464.76,371.79 472.85,371.34 472.74,369.34 M464.86,373.64 C464.98,375.64 473.06,375.18 472.95,373.19 M465.08,377.49 C465.20,379.49 473.28,379.02 473.17,377.02 M465.31,381.34 C465.42,383.33 473.51,382.86 473.39,380.86 M465.53,385.18 C465.65,387.18 473.74,386.70 473.62,384.71 M465.76,389.03 C465.88,391.03 473.97,390.54 473.85,388.54 M465.99,392.88 C466.11,394.87 474.20,394.38 474.08,392.38 M466.23,396.72 C466.35,398.72 474.43,398.22 474.31,396.23 M466.46,400.57 C466.59,402.56 474.67,402.06 474.55,400.06 M466.70,404.41 C466.83,406.41 474.91,405.90 474.79,403.91 M466.94,408.25 C467.07,410.25 475.15,409.74 475.03,407.75 M467.19,412.10 C467.31,414.10 475.40,413.58 475.27,411.59 M467.43,415.94 C467.56,417.94 475.64,417.42 475.52,415.43 M467.68,419.79 C467.81,421.78 475.89,421.26 475.76,419.27 M467.92,423.63 C468.05,425.63 476.14,425.11 476.01,423.11 M468.17,427.47 C468.30,429.47 476.38,428.95 476.26,426.95 M468.42,431.32 C468.55,433.31 476.63,432.79 476.50,430.79 M468.67,435.16 C468.80,437.15 476.88,436.63 476.75,434.63 M468.92,439.00 C469.05,441.00 477.13,440.47 477.00,438.48 M469.17,442.84 C469.30,444.84 477.38,444.31 477.25,442.32 M469.42,446.68 C469.55,448.68 477.63,448.16 477.50,446.16 M469.67,450.52 C469.79,452.52 477.88,452.00 477.75,450.00 M469.91,454.37 C470.04,456.36 478.12,455.84 478.00,453.85 M470.16,458.21 C470.29,460.20 478.37,459.68 478.24,457.69 M470.41,462.05 C470.53,464.04 478.62,463.53 478.49,461.53 M470.65,465.89 C470.78,467.88 478.86,467.37 478.73,465.38 M470.89,469.73 C471.02,471.72 479.10,471.22 478.98,469.22 M471.13,473.57 C471.26,475.56 479.34,475.06 479.22,473.06 M471.37,477.41 C471.49,479.41 479.58,478.91 479.45,476.91 M471.61,481.25 C471.73,483.24 479.81,482.75 479.69,480.76 M471.84,485.09 C471.96,487.09 480.04,486.60 479.92,484.60 M472.07,488.93 C472.19,490.92 480.27,490.45 480.15,488.45 M472.29,492.77 C472.41,494.76 480.50,494.29 480.38,492.29 M472.52,496.61 C472.63,498.60 480.72,498.14 480.60,496.14 M472.73,500.45 C472.85,502.44 480.93,501.99 480.82,499.99 M472.95,504.28 C473.06,506.28 481.14,505.84 481.04,503.84 M473.16,508.12 C473.26,510.12 481.35,509.69 481.24,507.69 M473.36,511.96 C473.46,513.96 481.55,513.54 481.45,511.54 M473.56,515.80 C473.66,517.80 481.75,517.39 481.65,515.39 M473.75,519.64 C473.85,521.64 481.94,521.24 481.84,519.25 M473.93,523.48 C474.03,525.48 482.12,525.09 482.02,523.10 M474.11,527.31 C474.20,529.31 482.29,528.95 482.20,526.95 M474.28,531.16 C474.37,533.15 482.46,532.80 482.37,530.80 M474.44,534.99 C474.53,536.99 482.62,536.66 482.54,534.66 M474.60,538.83 C474.68,540.83 482.77,540.51 482.69,538.51 M474.74,542.67 C474.81,544.66 482.91,544.37 482.83,542.37 M474.87,546.50 C474.94,548.50 483.03,548.24 482.97,546.24 M475.00,550.34 C475.06,552.34 483.15,552.09 483.09,550.09 M475.11,554.17 C475.16,556.17 483.26,555.95 483.20,553.96 M475.20,558.01 C475.25,560.00 483.35,559.82 483.30,557.82 M475.25,561.76 C475.25,563.76 483.35,563.76 483.35,561.76 M475.25,565.61 C475.25,567.61 483.35,567.61 483.35,565.61 M475.25,569.46 C475.25,571.46 483.35,571.46 483.35,569.46 M475.25,573.31 C475.25,575.31 483.35,575.31 483.35,573.31 M475.25,577.16 C475.25,579.16 483.35,579.16 483.35,577.16 M475.25,581.01 C475.25,583.01 483.35,583.01 483.35,581.01 M475.25,584.86 C475.25,586.86 483.35,586.86 483.35,584.86 M475.25,588.71 C475.25,590.71 483.35,590.71 483.35,588.71 M475.25,592.56 C475.25,594.56 483.35,594.56 483.35,592.56 M475.25,596.41 C475.25,598.41 483.35,598.41 483.35,596.41 M475.25,600.26 C475.25,602.26 483.35,602.26 483.35,600.26 M475.25,604.11 C475.25,606.11 483.35,606.11 483.35,604.11 M475.25,607.96 C475.25,609.96 483.35,609.96 483.35,607.96 M475.25,611.81 C475.25,613.81 483.35,613.81 483.35,611.81 M475.25,615.66 C475.25,617.66 483.35,617.66 483.35,615.66 M475.25,619.51 C475.25,621.51 483.35,621.51 483.35,619.51 M475.25,623.36 C475.25,625.36 483.35,625.36 483.35,623.36 M475.25,627.21 C475.25,629.21 483.35,629.21 483.35,627.21 M475.25,631.06 C475.25,633.06 483.35,633.06 483.35,631.06 M475.25,634.91 C475.25,636.91 483.35,636.91 483.35,634.91 M475.25,638.76 C475.25,640.76 483.35,640.76 483.35,638.76 M475.25,642.61 C475.25,644.61 483.35,644.61 483.35,642.61 M475.25,646.46 C475.25,648.46 483.35,648.46 483.35,646.46 M475.25,650.31 C475.25,652.31 483.35,652.31 483.35,650.31 M475.25,654.16 C475.25,656.16 483.35,656.16 483.35,654.16 M475.25,658.01 C475.25,660.01 483.35,660.01 483.35,658.01 M475.25,661.86 C475.25,663.86 483.35,663.86 483.35,661.86 M475.25,665.71 C475.25,667.71 483.35,667.71 483.35,665.71 M475.25,669.56 C475.25,671.56 483.35,671.56 483.35,669.56 M475.25,673.41 C475.25,675.41 483.35,675.41 483.35,673.41 M475.25,677.26 C475.25,679.26 483.35,679.26 483.35,677.26 M475.25,681.11 C475.25,683.11 483.35,683.11 483.35,681.11 M475.25,684.96 C475.25,686.96 483.35,686.96 483.35,684.96 M475.25,688.81 C475.25,690.81 483.35,690.81 483.35,688.81 M475.25,692.66 C475.25,694.66 483.35,694.66 483.35,692.66 M475.25,696.51 C475.25,698.51 483.35,698.51 483.35,696.51 M475.25,700.36 C475.25,702.36 483.35,702.36 483.35,700.36 M475.25,704.21 C475.25,706.21 483.35,706.21 483.35,704.21 M475.25,708.06 C475.25,710.06 483.35,710.06 483.35,708.06 M475.25,711.91 C475.25,713.91 483.35,713.91 483.35,711.91 M475.25,715.76 C475.25,717.76 483.35,717.76 483.35,715.76 M475.25,719.61 C475.25,721.61 483.35,721.61 483.35,719.61 M475.25,723.46 C475.25,725.46 483.35,725.46 483.35,723.46 M475.25,727.31 C475.25,729.31 483.35,729.31 483.35,727.31 M475.25,731.16 C475.25,733.16 483.35,733.16 483.35,731.16 M475.25,735.01 C475.25,737.01 483.35,737.01 483.35,735.01 M475.25,738.86 C475.25,740.86 483.35,740.86 483.35,738.86 M475.26,742.79 C475.30,744.79 483.40,744.63 483.36,742.64 M475.46,747.03 C475.69,749.01 483.74,748.08 483.51,746.09 M476.15,751.41 C476.67,753.34 484.50,751.24 483.98,749.31 M477.88,755.86 C478.83,757.62 485.96,753.77 485.00,752.01 M483.67,759.98 C485.63,760.40 487.32,752.47 485.37,752.06 M489.92,758.85 C491.73,758.02 488.37,750.65 486.55,751.48 M494.13,755.99 C495.61,754.64 490.13,748.67 488.66,750.02 M497.17,752.50 C498.35,750.88 491.83,746.09 490.64,747.70 M499.53,748.11 C500.22,746.23 492.62,743.44 491.93,745.32 M500.81,744.09 C501.33,742.16 493.50,740.07 492.98,742.00 M501.52,739.61 C501.70,737.62 493.63,736.89 493.45,738.89 M501.73,735.51 C501.79,733.51 493.69,733.30 493.64,735.30 M501.83,731.64 C501.86,729.64 493.77,729.48 493.73,731.48 M501.88,727.73 C501.89,725.73 493.79,725.68 493.78,727.68 M501.89,723.86 C501.89,721.86 493.79,721.86 493.79,723.86 M501.87,719.97 C501.85,717.97 493.75,718.05 493.77,720.05 M501.82,716.10 C501.79,714.10 493.69,714.22 493.72,716.22 M501.74,712.21 C501.69,710.21 493.59,710.41 493.64,712.41 M501.63,708.34 C501.57,706.35 493.48,706.58 493.53,708.58 M501.50,704.47 C501.43,702.47 493.33,702.76 493.41,704.76 M501.35,700.61 C501.27,698.61 493.18,698.93 493.26,700.92 M501.19,696.74 C501.09,694.74 493.00,695.10 493.09,697.10 M501.00,692.87 C500.90,690.87 492.81,691.28 492.91,693.28 M500.81,689.02 C500.70,687.02 492.62,687.44 492.72,689.44 M500.75,685.38 C500.74,683.38 492.64,683.38 492.65,685.38 M500.74,681.53 C500.74,679.53 492.64,679.53 492.64,681.53 M500.74,677.68 C500.74,675.68 492.64,675.68 492.64,677.68 M500.73,673.83 C500.73,671.83 492.63,671.83 492.63,673.83 M500.73,669.98 C500.73,667.98 492.63,667.98 492.63,669.98 M500.73,666.13 C500.72,664.13 492.62,664.13 492.63,666.13 M500.72,662.28 C500.72,660.28 492.62,660.28 492.62,662.28 M500.72,658.43 C500.72,656.43 492.62,656.43 492.62,658.43 M500.71,654.58 C500.71,652.58 492.61,652.58 492.61,654.58 M500.71,650.73 C500.71,648.73 492.61,648.73 492.61,650.73 M500.70,646.88 C500.70,644.88 492.60,644.88 492.60,646.88 M500.70,643.03 C500.70,641.03 492.60,641.03 492.60,643.03 M500.70,639.18 C500.69,637.18 492.59,637.18 492.60,639.18 M500.69,635.33 C500.69,633.33 492.59,633.33 492.59,635.33 M500.69,631.48 C500.69,629.48 492.59,629.48 492.59,631.48 M500.68,627.63 C500.68,625.63 492.58,625.63 492.58,627.63 M500.68,623.78 C500.68,621.78 492.58,621.78 492.58,623.78 M500.68,619.93 C500.67,617.93 492.57,617.93 492.58,619.93 M500.67,616.08 C500.67,614.08 492.57,614.08 492.57,616.08 M500.67,612.23 C500.66,610.23 492.56,610.23 492.57,612.23 M500.66,608.38 C500.66,606.38 492.56,606.38 492.56,608.38 M500.66,604.53 C500.66,602.53 492.56,602.53 492.56,604.53 M500.65,600.68 C500.65,598.68 492.55,598.68 492.55,600.68" stroke="#8c8c8c" stroke-width="1.25" fill="none"/>
<path d="M462.96,346.72 h0.01 M472.04,346.28 h0.01 M463.14,350.57 h0.01 M472.23,350.12 h0.01 M463.33,354.42 h0.01 M472.42,353.96 h0.01 M463.53,358.27 h0.01 M472.62,357.80 h0.01 M463.73,362.12 h0.01 M472.82,361.64 h0.01 M463.94,365.97 h0.01 M473.03,365.48 h0.01 M464.15,369.82 h0.01 M473.24,369.32 h0.01 M464.37,373.67 h0.01 M473.45,373.16 h0.01 M464.58,377.52 h0.01 M473.67,376.99 h0.01 M464.81,381.37 h0.01 M473.89,380.84 h0.01 M465.03,385.21 h0.01 M474.12,384.68 h0.01 M465.26,389.06 h0.01 M474.35,388.51 h0.01 M465.49,392.91 h0.01 M474.58,392.35 h0.01 M465.73,396.75 h0.01 M474.81,396.20 h0.01 M465.97,400.60 h0.01 M475.05,400.03 h0.01 M466.20,404.44 h0.01 M475.29,403.87 h0.01 M466.45,408.29 h0.01 M475.53,407.72 h0.01 M466.69,412.13 h0.01 M475.77,411.55 h0.01 M466.93,415.97 h0.01 M476.01,415.40 h0.01 M467.18,419.82 h0.01 M476.26,419.24 h0.01 M467.43,423.66 h0.01 M476.51,423.08 h0.01 M467.67,427.50 h0.01 M476.75,426.92 h0.01 M467.92,431.35 h0.01 M477.00,430.76 h0.01 M468.17,435.19 h0.01 M477.25,434.60 h0.01 M468.42,439.03 h0.01 M477.50,438.44 h0.01 M468.67,442.87 h0.01 M477.75,442.28 h0.01 M468.92,446.72 h0.01 M478.00,446.13 h0.01 M469.17,450.56 h0.01 M478.25,449.97 h0.01 M469.41,454.40 h0.01 M478.50,453.81 h0.01 M469.66,458.24 h0.01 M478.74,457.66 h0.01 M469.91,462.08 h0.01 M478.99,461.50 h0.01 M470.15,465.92 h0.01 M479.23,465.34 h0.01 M470.39,469.76 h0.01 M479.47,469.19 h0.01 M470.63,473.60 h0.01 M479.72,473.03 h0.01 M470.87,477.44 h0.01 M479.95,476.88 h0.01 M471.11,481.28 h0.01 M480.19,480.73 h0.01 M471.34,485.12 h0.01 M480.42,484.57 h0.01 M471.57,488.96 h0.01 M480.65,488.42 h0.01 M471.79,492.80 h0.01 M480.88,492.27 h0.01 M472.02,496.63 h0.01 M481.10,496.12 h0.01 M472.23,500.47 h0.01 M481.32,499.96 h0.01 M472.45,504.31 h0.01 M481.53,503.81 h0.01 M472.66,508.15 h0.01 M481.74,507.66 h0.01 M472.86,511.99 h0.01 M481.95,511.52 h0.01 M473.06,515.83 h0.01 M482.15,515.37 h0.01 M473.25,519.66 h0.01 M482.34,519.22 h0.01 M473.43,523.50 h0.01 M482.52,523.07 h0.01 M473.61,527.34 h0.01 M482.70,526.93 h0.01 M473.78,531.18 h0.01 M482.87,530.78 h0.01 M473.94,535.01 h0.01 M483.04,534.64 h0.01 M474.10,538.85 h0.01 M483.19,538.49 h0.01 M474.24,542.68 h0.01 M483.33,542.36 h0.01 M474.37,546.52 h0.01 M483.47,546.22 h0.01 M474.50,550.36 h0.01 M483.59,550.08 h0.01 M474.61,554.19 h0.01 M483.70,553.94 h0.01 M474.70,558.02 h0.01 M483.80,557.81 h0.01 M474.75,561.76 h0.01 M483.85,561.76 h0.01 M474.75,565.61 h0.01 M483.85,565.61 h0.01 M474.75,569.46 h0.01 M483.85,569.46 h0.01 M474.75,573.31 h0.01 M483.85,573.31 h0.01 M474.75,577.16 h0.01 M483.85,577.16 h0.01 M474.75,581.01 h0.01 M483.85,581.01 h0.01 M474.75,584.86 h0.01 M483.85,584.86 h0.01 M474.75,588.71 h0.01 M483.85,588.71 h0.01 M474.75,592.56 h0.01 M483.85,592.56 h0.01 M474.75,596.41 h0.01 M483.85,596.41 h0.01 M474.75,600.26 h0.01 M483.85,600.26 h0.01 M474.75,604.11 h0.01 M483.85,604.11 h0.01 M474.75,607.96 h0.01 M483.85,607.96 h0.01 M474.75,611.81 h0.01 M483.85,611.81 h0.01 M474.75,615.66 h0.01 M483.85,615.66 h0.01 M474.75,619.51 h0.01 M483.85,619.51 h0.01 M474.75,623.36 h0.01 M483.85,623.36 h0.01 M474.75,627.21 h0.01 M483.85,627.21 h0.01 M474.75,631.06 h0.01 M483.85,631.06 h0.01 M474.75,634.91 h0.01 M483.85,634.91 h0.01 M474.75,638.76 h0.01 M483.85,638.76 h0.01 M474.75,642.61 h0.01 M483.85,642.61 h0.01 M474.75,646.46 h0.01 M483.85,646.46 h0.01 M474.75,650.31 h0.01 M483.85,650.31 h0.01 M474.75,654.16 h0.01 M483.85,654.16 h0.01 M474.75,658.01 h0.01 M483.85,658.01 h0.01 M474.75,661.86 h0.01 M483.85,661.86 h0.01 M474.75,665.71 h0.01 M483.85,665.71 h0.01 M474.75,669.56 h0.01 M483.85,669.56 h0.01 M474.75,673.41 h0.01 M483.85,673.41 h0.01 M474.75,677.26 h0.01 M483.85,677.26 h0.01 M474.75,681.11 h0.01 M483.85,681.11 h0.01 M474.75,684.96 h0.01 M483.85,684.96 h0.01 M474.75,688.81 h0.01 M483.85,688.81 h0.01 M474.75,692.66 h0.01 M483.85,692.66 h0.01 M474.75,696.51 h0.01 M483.85,696.51 h0.01 M474.75,700.36 h0.01 M483.85,700.36 h0.01 M474.75,704.21 h0.01 M483.85,704.21 h0.01 M474.75,708.06 h0.01 M483.85,708.06 h0.01 M474.75,711.91 h0.01 M483.85,711.91 h0.01 M474.75,715.76 h0.01 M483.85,715.76 h0.01 M474.75,719.61 h0.01 M483.85,719.61 h0.01 M474.75,723.46 h0.01 M483.85,723.46 h0.01 M474.75,727.31 h0.01 M483.85,727.31 h0.01 M474.75,731.16 h0.01 M483.85,731.16 h0.01 M474.75,735.01 h0.01 M483.85,735.01 h0.01 M474.75,738.86 h0.01 M483.85,738.86 h0.01 M474.76,742.80 h0.01 M483.86,742.63 h0.01 M474.96,747.08 h0.01 M484.00,746.03 h0.01 M475.67,751.54 h0.01 M484.46,749.18 h0.01 M477.44,756.10 h0.01 M485.44,751.77 h0.01 M483.57,760.47 h0.01 M485.47,751.57 h0.01 M490.12,759.30 h0.01 M486.34,751.03 h0.01 M494.47,756.36 h0.01 M488.32,749.65 h0.01 M497.57,752.79 h0.01 M490.24,747.40 h0.01 M500.00,748.28 h0.01 M491.46,745.15 h0.01 M501.29,744.22 h0.01 M492.50,741.88 h0.01 M502.02,739.66 h0.01 M492.96,738.84 h0.01 M502.23,735.53 h0.01 M493.14,735.29 h0.01 M502.33,731.65 h0.01 M493.23,731.47 h0.01 M502.38,727.74 h0.01 M493.28,727.68 h0.01 M502.39,723.86 h0.01 M493.29,723.86 h0.01 M502.37,719.96 h0.01 M493.27,720.06 h0.01 M502.32,716.09 h0.01 M493.22,716.23 h0.01 M502.23,712.20 h0.01 M493.14,712.42 h0.01 M502.13,708.33 h0.01 M493.03,708.59 h0.01 M502.00,704.45 h0.01 M492.91,704.78 h0.01 M501.85,700.59 h0.01 M492.76,700.94 h0.01 M501.68,696.71 h0.01 M492.59,697.12 h0.01 M501.50,692.85 h0.01 M492.41,693.30 h0.01 M501.31,688.99 h0.01 M492.22,689.46 h0.01 M501.25,685.37 h0.01 M492.15,685.38 h0.01 M501.24,681.52 h0.01 M492.14,681.53 h0.01 M501.24,677.67 h0.01 M492.14,677.68 h0.01 M501.23,673.82 h0.01 M492.13,673.83 h0.01 M501.23,669.97 h0.01 M492.13,669.98 h0.01 M501.23,666.12 h0.01 M492.13,666.13 h0.01 M501.22,662.27 h0.01 M492.12,662.28 h0.01 M501.22,658.42 h0.01 M492.12,658.43 h0.01 M501.21,654.57 h0.01 M492.11,654.58 h0.01 M501.21,650.72 h0.01 M492.11,650.73 h0.01 M501.20,646.87 h0.01 M492.10,646.88 h0.01 M501.20,643.02 h0.01 M492.10,643.03 h0.01 M501.20,639.17 h0.01 M492.10,639.18 h0.01 M501.19,635.32 h0.01 M492.09,635.33 h0.01 M501.19,631.47 h0.01 M492.09,631.48 h0.01 M501.18,627.62 h0.01 M492.08,627.63 h0.01 M501.18,623.77 h0.01 M492.08,623.78 h0.01 M501.18,619.92 h0.01 M492.08,619.93 h0.01 M501.17,616.07 h0.01 M492.07,616.08 h0.01 M501.17,612.22 h0.01 M492.07,612.23 h0.01 M501.16,608.37 h0.01 M492.06,608.38 h0.01 M501.16,604.52 h0.01 M492.06,604.53 h0.01 M501.15,600.67 h0.01 M492.05,600.68 h0.01" stroke="#2a2a2a" stroke-width="1.2" stroke-linecap="round" fill="none"/>
<rect x="494.2" y="597" width="4.9" height="36" fill="#fff"/>
<line x1="496.6" y1="594.4" x2="496.6" y2="632.7" stroke="#888" stroke-width="0.9" />
<line x1="472" y1="91" x2="472" y2="183" stroke="#262626" stroke-width="1.1" />
<line x1="487.5" y1="91" x2="487.5" y2="317" stroke="#262626" stroke-width="1.1" />
<line x1="487.5" y1="348.6" x2="487.5" y2="545" stroke="#262626" stroke-width="1.1" />
<path d="M468.7,59.2 L531.6,57.4 L531.6,91.5 L468.7,89.8 Z" stroke="#262626" stroke-width="1.3" fill="#fff" />
<path d="M418.2,133.4 L437.4,124.1 Q439.3,123.1 440.6,125.2 Q462.3,161.1 479.4,199.4 L477.7,201.7 L477.7,316.6 L457.3,316.6 L457.3,301.2 L459,299 L459,215.3 Q458.4,211 457.2,208.5 Q431.66,174.08 418.2,133.4 Z" stroke="#262626" stroke-width="1.25" fill="#fff" />
<path d="M438.8,127.6 Q460.6,162.3 477.4,200.6" stroke="#999" stroke-width="0.7" fill="none" />
<path d="M457.2,208.3 L477.7,201.5 M459,215 Q465,205 477.7,201.5" stroke="#999" stroke-width="0.7" fill="none" />
<line x1="457.6" y1="310" x2="477.7" y2="310" stroke="#444" stroke-width="0.8" />
<path d="M418.6,134.2 Q431.66,174.08 457.0,208.2 L457.2,207.2 L420.3,136.6 Z" stroke="#222" stroke-width="0.6" fill="#4a4a4a" />
<ellipse cx="421.58" cy="139.11" rx="1.24" ry="0.66" transform="rotate(62.5 421.58 139.11)" fill="#f2f2f2"/><ellipse cx="422.36" cy="143.53" rx="1.30" ry="0.69" transform="rotate(62.5 422.36 143.53)" fill="#f2f2f2"/><ellipse cx="425.09" cy="146.93" rx="1.38" ry="0.74" transform="rotate(62.5 425.09 146.93)" fill="#f2f2f2"/><ellipse cx="425.81" cy="151.38" rx="1.47" ry="0.78" transform="rotate(62.5 425.81 151.38)" fill="#f2f2f2"/><ellipse cx="428.74" cy="154.69" rx="1.50" ry="0.80" transform="rotate(62.5 428.74 154.69)" fill="#f2f2f2"/><ellipse cx="429.41" cy="159.17" rx="1.50" ry="0.80" transform="rotate(62.5 429.41 159.17)" fill="#f2f2f2"/><ellipse cx="432.51" cy="162.38" rx="1.50" ry="0.80" transform="rotate(62.5 432.51 162.38)" fill="#f2f2f2"/><ellipse cx="433.17" cy="166.87" rx="1.50" ry="0.80" transform="rotate(62.5 433.17 166.87)" fill="#f2f2f2"/><ellipse cx="436.39" cy="170.04" rx="1.50" ry="0.80" transform="rotate(62.5 436.39 170.04)" fill="#f2f2f2"/><ellipse cx="437.11" cy="174.50" rx="1.50" ry="0.80" transform="rotate(62.5 437.11 174.50)" fill="#f2f2f2"/><ellipse cx="440.36" cy="177.64" rx="1.50" ry="0.80" transform="rotate(62.5 440.36 177.64)" fill="#f2f2f2"/><ellipse cx="441.22" cy="182.04" rx="1.50" ry="0.80" transform="rotate(62.5 441.22 182.04)" fill="#f2f2f2"/><ellipse cx="444.43" cy="185.21" rx="1.48" ry="0.79" transform="rotate(62.5 444.43 185.21)" fill="#f2f2f2"/><ellipse cx="445.50" cy="189.49" rx="1.35" ry="0.72" transform="rotate(62.5 445.50 189.49)" fill="#f2f2f2"/><ellipse cx="448.59" cy="192.73" rx="1.19" ry="0.64" transform="rotate(62.5 448.59 192.73)" fill="#f2f2f2"/><ellipse cx="449.97" cy="196.86" rx="1.01" ry="0.54" transform="rotate(62.5 449.97 196.86)" fill="#f2f2f2"/><ellipse cx="452.86" cy="200.21" rx="0.81" ry="0.43" transform="rotate(62.5 452.86 200.21)" fill="#f2f2f2"/>
<path d="M418.2,133.4 Q431.66,174.08 457.2,208.5" stroke="#262626" stroke-width="1.2" fill="none" />
<path d="M420.3,136.6 L457.2,207.2" stroke="#222" stroke-width="0.9" fill="none" />
<path d="M475.9,316.4 L495.8,316.4 L495.8,348.6 L475.9,348.6" stroke="#262626" stroke-width="1.2" fill="#fff" />
<line x1="476" y1="318.2" x2="495.5" y2="318.2" stroke="#666" stroke-width="0.7" />
<line x1="476" y1="346.6" x2="495.5" y2="346.6" stroke="#666" stroke-width="0.7" />
<circle cx="466.9" cy="332.5" r="16.2" fill="#fff" stroke="#1c1c1c" stroke-width="1.2"/>
<rect x="459.5" y="316.6" width="14.8" height="29.6" fill="#fff" stroke="#1c1c1c" stroke-width="1.2"/>
<path d="M459.6,578.7 L459.6,530 Q459.6,527.7 462,527.7 L472,527.7" stroke="#262626" stroke-width="1.2" fill="none" />
<path d="M459.6,578.7 L468.5,578.7" stroke="#262626" stroke-width="1.2" fill="none" />
<path d="M487.7,527.3 L508.6,527.3 Q512,521 516.6,518.2 L527.5,519 Q529.6,519.3 529.6,521.5 L529.6,554.5" stroke="#262626" stroke-width="1.2" fill="#fff" />
<path d="M508,528 Q501,540 500.5,554.5 M511,526 Q504,540 503.2,554.5 M514,522.5 Q506.5,540 506,554.5" stroke="#999" stroke-width="0.7" fill="none" />
<path d="M468.5,587 L468.5,557.5 Q468.5,555.4 470.5,555.4 L474,555.4 M484.9,554.9 L531.4,554.9 M531.4,527.6 L531.4,587.6 L468.5,587" stroke="#262626" stroke-width="1.2" fill="none" />
<rect x="467" y="544.9" width="25.4" height="8.8" rx="1.5" fill="#fff" stroke="#1c1c1c" stroke-width="1.2"/>
<path d="M489.3,587.3 L504.8,587.3 L503.7,596.3 L490.1,596.3 Z" stroke="#262626" stroke-width="1.1" fill="#fff" />
<line x1="416.8" y1="5.4" x2="416.8" y2="122.8" stroke="#4a4a4a" stroke-width="1.0" />
<line x1="531.6" y1="5.4" x2="531.6" y2="47.5" stroke="#4a4a4a" stroke-width="1.0" />
<line x1="425" y1="15.7" x2="447.9" y2="15.7" stroke="#4a4a4a" stroke-width="1.0" />
<line x1="499.7" y1="15.7" x2="523" y2="15.7" stroke="#4a4a4a" stroke-width="1.0" />
<polygon points="417.00,15.70 426.00,12.45 426.00,18.95" fill="#111"/>
<polygon points="531.40,15.70 522.40,12.45 522.40,18.95" fill="#111"/>
<text x="472.1" y="19.6" font-size="12" text-anchor="middle" fill="#222" >138 mm</text>
<line x1="542.3" y1="74" x2="601.3" y2="74" stroke="#4a4a4a" stroke-width="1.0" />
<line x1="542.3" y1="569.7" x2="601.4" y2="569.7" stroke="#4a4a4a" stroke-width="1.0" />
<line x1="591.1" y1="83" x2="591.1" y2="311.4" stroke="#666" stroke-width="1.0" />
<line x1="591.1" y1="332" x2="591.1" y2="561" stroke="#666" stroke-width="1.0" />
<polygon points="591.10,74.10 587.85,83.10 594.35,83.10" fill="#111"/>
<polygon points="591.10,569.60 587.85,560.60 594.35,560.60" fill="#111"/>
<text x="591.5" y="325.1" font-size="12" text-anchor="middle" fill="#222" >632 mm</text>
<line x1="459.6" y1="587" x2="459.6" y2="660.9" stroke="#4a4a4a" stroke-width="1.0" />
<line x1="531.2" y1="597.9" x2="531.2" y2="660.9" stroke="#4a4a4a" stroke-width="1.0" />
<line x1="505" y1="622.5" x2="597.4" y2="622.5" stroke="#4a4a4a" stroke-width="1.0" />
<polygon points="496.70,622.50 505.70,619.25 505.70,625.75" fill="#111"/>
<polygon points="531.20,622.50 522.20,619.25 522.20,625.75" fill="#111"/>
<line x1="468" y1="650.7" x2="597.4" y2="650.7" stroke="#4a4a4a" stroke-width="1.0" />
<polygon points="459.80,650.70 468.80,647.45 468.80,653.95" fill="#111"/>
<polygon points="531.20,650.70 522.20,647.45 522.20,653.95" fill="#111"/>
<text x="620.4" y="626.1" font-size="12" text-anchor="middle" fill="#222" >47 mm</text>
<text x="620.4" y="654.5" font-size="12" text-anchor="middle" fill="#222" >97 mm</text>
</svg>
</body></html>
